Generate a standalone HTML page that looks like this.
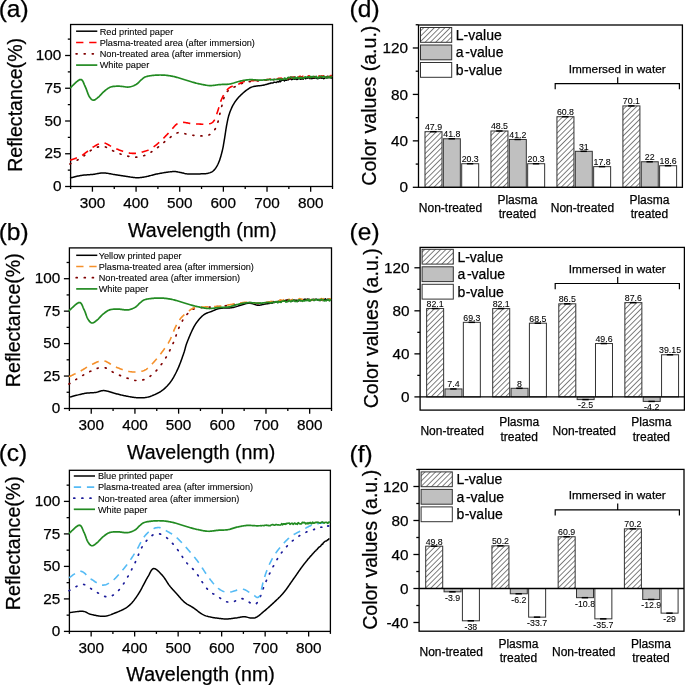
<!DOCTYPE html>
<html><head><meta charset="utf-8"><style>
html,body{margin:0;padding:0;background:#fff;}
svg{display:block;will-change:transform;}
text{font-family:"Liberation Sans", sans-serif;fill:#000;stroke:#000;stroke-width:0.25px;}
text.sm{stroke-width:0.08px;}
</style></head><body>
<svg width="685" height="685" viewBox="0 0 685 685" font-family='"Liberation Sans", sans-serif'>
<defs>
<pattern id="hatch" patternUnits="userSpaceOnUse" width="3.75" height="3.75" patternTransform="rotate(45)">
<rect width="3.75" height="3.75" fill="#fff"/>
<line x1="0" y1="0" x2="0" y2="3.75" stroke="#222" stroke-width="1.15"/>
</pattern>
</defs>
<rect width="685" height="685" fill="#fff"/>
<line x1="70.60" y1="186.50" x2="70.60" y2="189.00" stroke="#000" stroke-width="1.3" />
<line x1="92.42" y1="186.50" x2="92.42" y2="191.70" stroke="#000" stroke-width="1.3" />
<text x="92.42" y="208.10" font-size="15.3" text-anchor="middle" >300</text>
<line x1="114.25" y1="186.50" x2="114.25" y2="189.00" stroke="#000" stroke-width="1.3" />
<line x1="136.07" y1="186.50" x2="136.07" y2="191.70" stroke="#000" stroke-width="1.3" />
<text x="136.07" y="208.10" font-size="15.3" text-anchor="middle" >400</text>
<line x1="157.90" y1="186.50" x2="157.90" y2="189.00" stroke="#000" stroke-width="1.3" />
<line x1="179.72" y1="186.50" x2="179.72" y2="191.70" stroke="#000" stroke-width="1.3" />
<text x="179.72" y="208.10" font-size="15.3" text-anchor="middle" >500</text>
<line x1="201.55" y1="186.50" x2="201.55" y2="189.00" stroke="#000" stroke-width="1.3" />
<line x1="223.37" y1="186.50" x2="223.37" y2="191.70" stroke="#000" stroke-width="1.3" />
<text x="223.37" y="208.10" font-size="15.3" text-anchor="middle" >600</text>
<line x1="245.20" y1="186.50" x2="245.20" y2="189.00" stroke="#000" stroke-width="1.3" />
<line x1="267.02" y1="186.50" x2="267.02" y2="191.70" stroke="#000" stroke-width="1.3" />
<text x="267.02" y="208.10" font-size="15.3" text-anchor="middle" >700</text>
<line x1="288.85" y1="186.50" x2="288.85" y2="189.00" stroke="#000" stroke-width="1.3" />
<line x1="310.67" y1="186.50" x2="310.67" y2="191.70" stroke="#000" stroke-width="1.3" />
<text x="310.67" y="208.10" font-size="15.3" text-anchor="middle" >800</text>
<line x1="332.50" y1="186.50" x2="332.50" y2="189.00" stroke="#000" stroke-width="1.3" />
<line x1="65.10" y1="186.50" x2="70.60" y2="186.50" stroke="#000" stroke-width="1.3" />
<text x="61.40" y="191.20" font-size="15.3" text-anchor="end" >0</text>
<line x1="67.80" y1="170.12" x2="70.60" y2="170.12" stroke="#000" stroke-width="1.3" />
<line x1="65.10" y1="153.75" x2="70.60" y2="153.75" stroke="#000" stroke-width="1.3" />
<text x="61.40" y="158.45" font-size="15.3" text-anchor="end" >25</text>
<line x1="67.80" y1="137.38" x2="70.60" y2="137.38" stroke="#000" stroke-width="1.3" />
<line x1="65.10" y1="121.00" x2="70.60" y2="121.00" stroke="#000" stroke-width="1.3" />
<text x="61.40" y="125.70" font-size="15.3" text-anchor="end" >50</text>
<line x1="67.80" y1="104.62" x2="70.60" y2="104.62" stroke="#000" stroke-width="1.3" />
<line x1="65.10" y1="88.25" x2="70.60" y2="88.25" stroke="#000" stroke-width="1.3" />
<text x="61.40" y="92.95" font-size="15.3" text-anchor="end" >75</text>
<line x1="67.80" y1="71.88" x2="70.60" y2="71.88" stroke="#000" stroke-width="1.3" />
<line x1="65.10" y1="55.50" x2="70.60" y2="55.50" stroke="#000" stroke-width="1.3" />
<text x="61.40" y="60.20" font-size="15.3" text-anchor="end" >100</text>
<line x1="67.80" y1="39.12" x2="70.60" y2="39.12" stroke="#000" stroke-width="1.3" />
<rect x="70.60" y="24.50" width="261.90" height="162.00" fill="none" stroke="#000" stroke-width="1.3"/>
<text x="202.25" y="236.50" font-size="19.6" text-anchor="middle" >Wavelength (nm)</text>
<text transform="translate(21.60,104.90) rotate(-90)" font-size="19.6" text-anchor="middle">Reflectance(%)</text>
<text x="-1.30" y="17.30" font-size="24.5" text-anchor="start" >(a)</text>
<line x1="76.10" y1="31.20" x2="97.30" y2="31.20" stroke="#000" stroke-width="1.5"  stroke-linecap="butt"/>
<text x="99.70" y="34.50" font-size="9.2" text-anchor="start" class="sm" >Red printed paper</text>
<line x1="76.10" y1="42.50" x2="97.30" y2="42.50" stroke="#ff0000" stroke-width="1.6" stroke-dasharray="7.3 5.8" stroke-linecap="butt"/>
<text x="99.70" y="45.80" font-size="9.2" text-anchor="start" class="sm" >Plasma-treated area (after immersion)</text>
<line x1="76.10" y1="53.80" x2="97.30" y2="53.80" stroke="#800000" stroke-width="1.7" stroke-dasharray="1.0 7.1" stroke-linecap="round"/>
<text x="99.70" y="57.10" font-size="9.2" text-anchor="start" class="sm" >Non-treated area (after immersion)</text>
<line x1="76.10" y1="65.10" x2="97.30" y2="65.10" stroke="#228b22" stroke-width="1.7"  stroke-linecap="butt"/>
<text x="99.70" y="68.40" font-size="9.2" text-anchor="start" class="sm" >White paper</text>
<path d="M70.00,178.00 L70.46,177.89 L71.03,177.75 L71.69,177.59 L72.43,177.40 L73.23,177.20 L74.09,176.98 L74.99,176.76 L75.92,176.54 L76.86,176.32 L77.81,176.10 L78.75,175.90 L79.67,175.71 L80.56,175.54 L81.40,175.40 L82.22,175.28 L83.04,175.18 L83.86,175.09 L84.69,175.01 L85.51,174.95 L86.34,174.89 L87.16,174.83 L87.98,174.78 L88.80,174.73 L89.62,174.68 L90.42,174.62 L91.22,174.56 L92.02,174.48 L92.80,174.40 L93.63,174.29 L94.45,174.17 L95.27,174.03 L96.07,173.88 L96.87,173.72 L97.66,173.57 L98.45,173.42 L99.24,173.28 L100.03,173.16 L100.81,173.05 L101.60,172.97 L102.40,172.92 L103.20,172.90 L104.00,172.92 L104.80,172.96 L105.60,173.04 L106.40,173.13 L107.19,173.24 L107.99,173.37 L108.79,173.52 L109.60,173.66 L110.41,173.82 L111.22,173.97 L112.04,174.12 L112.87,174.27 L113.70,174.40 L114.48,174.52 L115.27,174.64 L116.07,174.77 L116.87,174.90 L117.67,175.03 L118.48,175.17 L119.29,175.30 L120.11,175.43 L120.92,175.57 L121.74,175.70 L122.56,175.83 L123.37,175.96 L124.19,176.08 L125.00,176.20 L125.82,176.32 L126.64,176.45 L127.47,176.59 L128.31,176.72 L129.14,176.86 L129.98,177.00 L130.81,177.12 L131.64,177.25 L132.46,177.36 L133.28,177.46 L134.08,177.55 L134.87,177.62 L135.64,177.67 L136.40,177.70 L137.33,177.71 L138.22,177.69 L139.08,177.66 L139.91,177.60 L140.74,177.52 L141.56,177.42 L142.39,177.30 L143.22,177.17 L144.08,177.03 L144.97,176.87 L145.90,176.70 L146.65,176.55 L147.40,176.39 L148.15,176.21 L148.91,176.02 L149.68,175.81 L150.45,175.60 L151.24,175.38 L152.05,175.16 L152.87,174.94 L153.71,174.72 L154.57,174.50 L155.46,174.29 L156.36,174.09 L157.30,173.90 L158.02,173.76 L158.78,173.62 L159.57,173.48 L160.38,173.33 L161.22,173.18 L162.08,173.03 L162.95,172.88 L163.82,172.74 L164.70,172.59 L165.57,172.46 L166.44,172.32 L167.30,172.20 L168.13,172.08 L168.95,171.97 L169.73,171.87 L170.49,171.78 L171.20,171.71 L171.87,171.65 L172.50,171.60 L173.68,171.55 L174.70,171.56 L175.60,171.61 L176.40,171.70 L177.14,171.83 L177.85,171.97 L178.56,172.12 L179.30,172.26 L180.10,172.40 L180.92,172.54 L181.70,172.72 L182.46,172.90 L183.22,173.10 L184.00,173.30 L184.82,173.49 L185.70,173.65 L186.65,173.80 L187.70,173.90 L188.39,173.94 L189.14,173.98 L189.93,174.01 L190.76,174.02 L191.61,174.03 L192.49,174.04 L193.38,174.03 L194.28,174.03 L195.17,174.02 L196.05,174.00 L196.91,173.98 L197.75,173.96 L198.54,173.94 L199.30,173.92 L200.00,173.90 L201.08,173.87 L202.09,173.85 L203.03,173.83 L203.92,173.80 L204.77,173.76 L205.58,173.69 L206.36,173.60 L207.13,173.47 L207.90,173.30 L208.74,173.08 L209.54,172.85 L210.30,172.60 L211.04,172.31 L211.75,171.95 L212.44,171.53 L213.12,171.02 L213.80,170.40 L214.29,169.88 L214.77,169.32 L215.24,168.71 L215.71,168.06 L216.17,167.37 L216.62,166.64 L217.06,165.87 L217.48,165.07 L217.90,164.24 L218.31,163.38 L218.70,162.50 L218.98,161.83 L219.26,161.12 L219.53,160.39 L219.79,159.64 L220.05,158.86 L220.30,158.07 L220.55,157.26 L220.79,156.44 L221.02,155.61 L221.25,154.79 L221.47,153.96 L221.69,153.13 L221.90,152.31 L222.10,151.50 L222.30,150.70 L222.49,149.91 L222.66,149.13 L222.83,148.36 L222.99,147.58 L223.14,146.81 L223.28,146.04 L223.42,145.26 L223.55,144.49 L223.69,143.70 L223.82,142.91 L223.95,142.11 L224.08,141.30 L224.22,140.48 L224.36,139.65 L224.50,138.80 L224.63,138.03 L224.76,137.25 L224.88,136.44 L225.01,135.62 L225.14,134.79 L225.26,133.95 L225.39,133.10 L225.52,132.26 L225.64,131.41 L225.77,130.56 L225.90,129.73 L226.03,128.90 L226.16,128.08 L226.29,127.28 L226.43,126.50 L226.56,125.74 L226.70,125.00 L226.88,124.07 L227.05,123.16 L227.22,122.28 L227.39,121.43 L227.56,120.59 L227.73,119.76 L227.91,118.95 L228.09,118.15 L228.29,117.36 L228.49,116.57 L228.71,115.78 L228.95,114.99 L229.20,114.20 L229.47,113.40 L229.75,112.61 L230.04,111.81 L230.34,111.02 L230.65,110.23 L230.97,109.45 L231.31,108.68 L231.65,107.91 L232.00,107.16 L232.36,106.42 L232.73,105.70 L233.11,104.99 L233.50,104.30 L233.93,103.57 L234.37,102.87 L234.82,102.18 L235.27,101.51 L235.74,100.86 L236.22,100.21 L236.72,99.58 L237.23,98.96 L237.75,98.34 L238.28,97.72 L238.83,97.11 L239.40,96.50 L239.95,95.93 L240.53,95.35 L241.13,94.77 L241.75,94.18 L242.38,93.60 L243.03,93.03 L243.67,92.47 L244.32,91.93 L244.95,91.41 L245.57,90.91 L246.17,90.44 L246.75,90.00 L247.30,89.60 L248.11,89.03 L248.82,88.54 L249.48,88.12 L250.13,87.76 L250.78,87.44 L251.49,87.15 L252.28,86.87 L253.20,86.60 L253.89,86.43 L254.64,86.28 L255.44,86.15 L256.28,86.03 L257.15,85.93 L258.03,85.83 L258.92,85.74 L259.81,85.64 L260.68,85.55 L261.53,85.44 L262.34,85.33 L263.10,85.19 L263.95,85.00 L264.73,84.89 L265.47,84.60 L266.17,84.52 L266.88,84.28 L267.59,83.98 L268.32,83.94 L269.11,83.52 L269.96,83.49 L270.90,83.04 L271.57,82.88 L272.28,82.93 L273.02,83.05 L273.78,82.33 L274.57,82.21 L275.37,82.38 L276.19,82.51 L277.02,81.97 L277.85,81.59 L278.69,82.07 L279.53,80.79 L280.36,81.62 L281.19,80.72 L282.00,80.35 L282.80,80.15 L283.64,80.26 L284.46,80.91 L285.26,79.76 L286.06,80.29 L286.86,80.27 L287.65,79.68 L288.46,79.89 L289.27,78.90 L290.09,78.79 L290.94,78.95 L291.81,79.71 L292.71,79.16 L293.63,78.86 L294.60,79.25 L295.33,78.95 L296.07,78.61 L296.81,79.43 L297.56,79.20 L298.32,78.32 L299.10,78.85 L299.88,78.71 L300.67,79.28 L301.48,78.96 L302.30,78.12 L303.13,79.31 L303.98,77.71 L304.85,78.20 L305.73,78.77 L306.62,77.63 L307.54,78.20 L308.47,77.35 L309.43,78.44 L310.40,78.58 L311.11,78.21 L311.87,78.73 L312.66,77.69 L313.49,78.36 L314.35,78.15 L315.22,78.11 L316.13,77.86 L317.04,78.54 L317.97,78.71 L318.91,77.84 L319.85,78.17 L320.79,77.07 L321.72,78.21 L322.65,78.10 L323.56,78.70 L324.46,78.38 L325.34,77.41 L326.19,77.58 L327.01,78.07 L327.79,76.90 L328.54,77.68 L329.25,77.14 L329.91,77.04 L330.52,76.93 L331.07,78.20 L331.57,77.04 L332.00,77.25" fill="none" stroke="#000" stroke-width="1.5"  stroke-linecap="butt" stroke-linejoin="round"/>
<path d="M70.00,164.00 L70.40,163.78 L70.88,163.53 L71.43,163.24 L72.05,162.92 L72.72,162.57 L73.44,162.20 L74.20,161.80 L74.99,161.38 L75.80,160.95 L76.62,160.50 L77.45,160.04 L78.28,159.58 L79.10,159.11 L79.90,158.64 L80.67,158.17 L81.40,157.70 L82.07,157.25 L82.75,156.77 L83.42,156.26 L84.10,155.73 L84.78,155.19 L85.46,154.63 L86.14,154.07 L86.82,153.51 L87.50,152.95 L88.18,152.40 L88.85,151.87 L89.52,151.35 L90.19,150.85 L90.85,150.39 L91.50,149.95 L92.16,149.56 L92.80,149.20 L93.63,148.78 L94.45,148.38 L95.27,148.01 L96.07,147.67 L96.87,147.37 L97.66,147.10 L98.45,146.86 L99.24,146.67 L100.03,146.52 L100.81,146.42 L101.60,146.36 L102.40,146.35 L103.20,146.40 L103.95,146.51 L104.69,146.68 L105.43,146.92 L106.17,147.20 L106.91,147.54 L107.65,147.91 L108.39,148.30 L109.14,148.71 L109.89,149.14 L110.64,149.56 L111.40,149.98 L112.16,150.38 L112.93,150.76 L113.70,151.10 L114.43,151.41 L115.17,151.72 L115.91,152.04 L116.65,152.37 L117.40,152.69 L118.16,153.01 L118.91,153.33 L119.67,153.64 L120.43,153.95 L121.20,154.24 L121.96,154.53 L122.72,154.80 L123.48,155.05 L124.24,155.29 L125.00,155.50 L125.82,155.71 L126.64,155.92 L127.47,156.12 L128.31,156.30 L129.14,156.47 L129.98,156.63 L130.81,156.77 L131.64,156.89 L132.46,157.00 L133.28,157.08 L134.08,157.15 L134.87,157.19 L135.64,157.21 L136.40,157.20 L137.26,157.16 L138.09,157.09 L138.91,156.99 L139.71,156.86 L140.49,156.70 L141.27,156.51 L142.04,156.30 L142.80,156.07 L143.57,155.81 L144.34,155.53 L145.11,155.22 L145.90,154.90 L146.63,154.58 L147.36,154.23 L148.09,153.86 L148.82,153.46 L149.55,153.04 L150.28,152.61 L151.02,152.15 L151.75,151.69 L152.48,151.21 L153.21,150.71 L153.94,150.22 L154.67,149.71 L155.40,149.20 L156.03,148.75 L156.67,148.28 L157.30,147.80 L157.93,147.30 L158.57,146.79 L159.20,146.28 L159.83,145.76 L160.47,145.23 L161.10,144.70 L161.73,144.17 L162.37,143.65 L163.00,143.12 L163.63,142.61 L164.27,142.10 L164.90,141.60 L165.59,141.06 L166.29,140.50 L167.00,139.94 L167.73,139.36 L168.45,138.78 L169.17,138.21 L169.89,137.64 L170.59,137.09 L171.29,136.56 L171.96,136.06 L172.62,135.59 L173.24,135.15 L173.84,134.75 L174.40,134.40 L175.40,133.82 L176.25,133.36 L177.01,133.02 L177.72,132.77 L178.44,132.61 L179.22,132.53 L180.10,132.50 L180.84,132.55 L181.57,132.67 L182.32,132.87 L183.09,133.11 L183.90,133.37 L184.75,133.66 L185.66,133.93 L186.64,134.19 L187.70,134.40 L188.39,134.52 L189.12,134.64 L189.90,134.77 L190.71,134.90 L191.54,135.04 L192.40,135.17 L193.27,135.29 L194.15,135.42 L195.03,135.53 L195.90,135.63 L196.77,135.72 L197.62,135.79 L198.44,135.85 L199.24,135.89 L200.00,135.90 L200.92,135.90 L201.83,135.91 L202.73,135.90 L203.61,135.87 L204.47,135.83 L205.32,135.76 L206.14,135.66 L206.95,135.53 L207.73,135.35 L208.48,135.12 L209.21,134.84 L209.90,134.50 L210.57,134.10 L211.21,133.65 L211.82,133.15 L212.41,132.61 L212.98,132.03 L213.52,131.40 L214.04,130.74 L214.53,130.04 L215.01,129.32 L215.46,128.57 L215.89,127.79 L216.30,127.00 L216.61,126.34 L216.89,125.64 L217.15,124.92 L217.39,124.16 L217.61,123.39 L217.82,122.59 L218.02,121.78 L218.21,120.96 L218.39,120.13 L218.57,119.29 L218.74,118.46 L218.92,117.63 L219.11,116.81 L219.30,116.00 L219.50,115.20 L219.71,114.41 L219.91,113.60 L220.12,112.79 L220.32,111.98 L220.53,111.16 L220.73,110.34 L220.93,109.52 L221.13,108.71 L221.33,107.91 L221.53,107.12 L221.73,106.34 L221.92,105.57 L222.12,104.83 L222.31,104.10 L222.50,103.40 L222.75,102.47 L222.99,101.55 L223.21,100.66 L223.43,99.78 L223.65,98.93 L223.87,98.11 L224.11,97.32 L224.35,96.56 L224.61,95.84 L224.89,95.15 L225.20,94.50 L225.65,93.69 L226.10,92.97 L226.58,92.33 L227.08,91.74 L227.63,91.20 L228.22,90.67 L228.88,90.14 L229.60,89.60 L230.24,89.16 L230.94,88.73 L231.69,88.31 L232.47,87.90 L233.28,87.50 L234.11,87.11 L234.95,86.72 L235.78,86.34 L236.60,85.97 L237.40,85.60 L238.16,85.23 L238.88,84.87 L239.58,84.50 L240.27,84.14 L240.97,83.79 L241.71,83.46 L242.49,83.14 L243.34,82.83 L244.27,82.55 L245.30,82.30 L245.95,82.17 L246.62,82.04 L247.31,81.93 L248.02,81.83 L248.75,81.73 L249.50,81.64 L250.27,81.56 L251.06,81.48 L251.87,81.41 L252.70,81.34 L253.56,81.26 L254.43,81.19 L255.32,81.12 L256.24,81.05 L257.17,80.97 L258.12,80.89 L259.10,80.80 L259.81,80.74 L260.54,80.67 L261.28,80.60 L262.04,80.54 L262.82,80.47 L263.61,80.43 L264.41,80.29 L265.23,80.26 L266.06,80.22 L266.89,80.26 L267.73,80.19 L268.58,80.16 L269.44,79.83 L270.29,79.83 L271.15,79.72 L272.01,80.00 L272.88,80.01 L273.74,79.32 L274.59,79.26 L275.45,79.22 L276.30,79.14 L277.14,79.32 L277.97,79.37 L278.80,78.92 L279.61,78.53 L280.40,78.96 L281.17,78.82 L281.92,79.02 L282.67,79.51 L283.40,79.07 L284.13,78.74 L284.86,78.83 L285.58,78.86 L286.31,77.74 L287.04,79.13 L287.79,78.86 L288.54,78.96 L289.31,78.75 L290.10,77.96 L290.91,77.90 L291.74,77.30 L292.60,78.19 L293.49,77.10 L294.42,77.05 L295.38,77.24 L296.38,77.10 L297.42,77.37 L298.50,76.79 L299.17,76.67 L299.87,76.91 L300.60,76.79 L301.36,77.24 L302.16,76.60 L302.97,78.10 L303.81,77.60 L304.68,76.73 L305.56,76.89 L306.46,77.04 L307.38,77.04 L308.31,76.58 L309.25,77.86 L310.20,78.09 L311.16,77.12 L312.13,77.13 L313.10,76.39 L314.07,76.39 L315.03,76.80 L316.00,76.64 L316.96,77.63 L317.92,76.41 L318.86,76.14 L319.80,77.79 L320.72,77.00 L321.62,76.30 L322.51,76.99 L323.38,76.04 L324.23,76.93 L325.05,77.72 L325.85,77.50 L326.63,77.18 L327.37,76.38 L328.08,76.55 L328.76,76.18 L329.40,77.25 L330.00,76.81 L330.57,77.24 L331.09,76.42 L331.57,76.21 L332.00,77.26" fill="none" stroke="#800000" stroke-width="1.7" stroke-dasharray="1.0 7.1" stroke-linecap="round" stroke-linejoin="round"/>
<path d="M70.00,160.20 L70.43,160.04 L70.95,159.87 L71.55,159.67 L72.22,159.45 L72.96,159.21 L73.74,158.95 L74.56,158.68 L75.42,158.38 L76.29,158.07 L77.18,157.73 L78.06,157.38 L78.94,157.01 L79.79,156.63 L80.62,156.22 L81.40,155.80 L82.07,155.40 L82.75,154.96 L83.42,154.49 L84.10,154.00 L84.78,153.48 L85.46,152.94 L86.14,152.39 L86.82,151.83 L87.50,151.27 L88.18,150.71 L88.85,150.16 L89.52,149.62 L90.19,149.10 L90.85,148.61 L91.50,148.14 L92.16,147.70 L92.80,147.30 L93.57,146.84 L94.34,146.38 L95.09,145.92 L95.84,145.48 L96.58,145.05 L97.32,144.64 L98.06,144.27 L98.79,143.93 L99.52,143.62 L100.25,143.37 L100.98,143.16 L101.72,143.01 L102.46,142.92 L103.20,142.90 L103.95,142.96 L104.69,143.11 L105.43,143.33 L106.17,143.62 L106.91,143.96 L107.65,144.34 L108.39,144.76 L109.14,145.20 L109.89,145.65 L110.64,146.10 L111.40,146.54 L112.16,146.96 L112.93,147.35 L113.70,147.70 L114.43,148.01 L115.18,148.32 L115.94,148.64 L116.70,148.96 L117.47,149.28 L118.25,149.60 L119.02,149.91 L119.80,150.21 L120.57,150.51 L121.34,150.80 L122.09,151.07 L122.84,151.33 L123.58,151.58 L124.30,151.80 L125.00,152.00 L125.85,152.23 L126.69,152.44 L127.50,152.63 L128.30,152.80 L129.09,152.96 L129.86,153.09 L130.63,153.20 L131.40,153.29 L132.17,153.35 L132.94,153.39 L133.71,153.41 L134.50,153.40 L135.30,153.36 L136.11,153.29 L136.92,153.19 L137.74,153.06 L138.55,152.91 L139.37,152.74 L140.18,152.55 L140.97,152.35 L141.76,152.14 L142.53,151.93 L143.27,151.71 L144.00,151.50 L144.83,151.25 L145.61,151.02 L146.36,150.78 L147.09,150.53 L147.80,150.26 L148.51,149.97 L149.24,149.63 L149.99,149.25 L150.77,148.81 L151.60,148.30 L152.18,147.92 L152.77,147.51 L153.38,147.08 L154.00,146.62 L154.63,146.14 L155.26,145.64 L155.91,145.13 L156.56,144.59 L157.21,144.05 L157.86,143.49 L158.52,142.92 L159.17,142.35 L159.82,141.77 L160.46,141.18 L161.10,140.60 L161.67,140.07 L162.24,139.52 L162.83,138.95 L163.42,138.36 L164.01,137.76 L164.61,137.16 L165.20,136.54 L165.79,135.92 L166.38,135.30 L166.96,134.69 L167.53,134.08 L168.08,133.49 L168.63,132.91 L169.15,132.35 L169.66,131.81 L170.14,131.29 L170.60,130.80 L171.32,130.01 L171.98,129.25 L172.59,128.52 L173.15,127.83 L173.69,127.18 L174.20,126.56 L174.71,125.98 L175.22,125.44 L175.75,124.95 L176.30,124.50 L177.08,123.94 L177.82,123.47 L178.54,123.09 L179.29,122.78 L180.09,122.55 L180.99,122.39 L182.00,122.30 L182.72,122.29 L183.51,122.33 L184.34,122.42 L185.22,122.55 L186.12,122.70 L187.04,122.87 L187.96,123.04 L188.88,123.21 L189.78,123.36 L190.66,123.50 L191.50,123.60 L192.39,123.68 L193.27,123.76 L194.14,123.82 L195.00,123.88 L195.85,123.93 L196.69,123.97 L197.53,124.01 L198.35,124.04 L199.18,124.07 L200.00,124.10 L200.92,124.14 L201.83,124.19 L202.75,124.25 L203.66,124.30 L204.56,124.33 L205.44,124.34 L206.29,124.31 L207.11,124.23 L207.90,124.10 L208.75,123.92 L209.56,123.72 L210.35,123.50 L211.10,123.22 L211.82,122.86 L212.51,122.41 L213.17,121.83 L213.80,121.10 L214.17,120.56 L214.52,119.96 L214.85,119.28 L215.18,118.56 L215.49,117.79 L215.79,116.99 L216.07,116.16 L216.36,115.31 L216.63,114.46 L216.90,113.62 L217.17,112.79 L217.43,111.98 L217.70,111.20 L217.98,110.37 L218.24,109.54 L218.49,108.70 L218.73,107.86 L218.97,107.01 L219.20,106.17 L219.43,105.34 L219.67,104.52 L219.91,103.71 L220.16,102.92 L220.42,102.15 L220.70,101.40 L221.02,100.60 L221.34,99.82 L221.67,99.05 L222.01,98.30 L222.35,97.57 L222.70,96.85 L223.06,96.15 L223.43,95.46 L223.81,94.79 L224.20,94.14 L224.60,93.50 L225.09,92.74 L225.58,92.00 L226.08,91.28 L226.59,90.58 L227.13,89.91 L227.69,89.28 L228.28,88.68 L228.92,88.12 L229.60,87.60 L230.27,87.18 L230.98,86.82 L231.73,86.50 L232.51,86.21 L233.32,85.94 L234.14,85.68 L234.96,85.43 L235.79,85.17 L236.60,84.90 L237.40,84.60 L238.16,84.27 L238.88,83.92 L239.58,83.56 L240.27,83.19 L240.97,82.82 L241.71,82.47 L242.49,82.13 L243.34,81.82 L244.27,81.54 L245.30,81.30 L245.95,81.18 L246.62,81.08 L247.31,80.99 L248.02,80.92 L248.75,80.86 L249.50,80.80 L250.27,80.75 L251.06,80.71 L251.87,80.68 L252.70,80.64 L253.56,80.60 L254.43,80.57 L255.32,80.53 L256.24,80.48 L257.17,80.43 L258.12,80.37 L259.10,80.30 L259.81,80.24 L260.54,80.19 L261.28,80.13 L262.04,80.07 L262.82,80.01 L263.61,79.97 L264.41,79.92 L265.23,79.87 L266.06,79.80 L266.89,79.59 L267.73,79.61 L268.58,79.48 L269.44,79.24 L270.29,79.14 L271.15,79.19 L272.01,79.09 L272.88,79.33 L273.74,79.48 L274.59,79.00 L275.45,79.38 L276.30,79.38 L277.14,79.31 L277.97,78.62 L278.80,78.38 L279.61,78.30 L280.40,78.18 L281.17,78.10 L281.92,78.60 L282.67,78.93 L283.40,78.79 L284.13,78.18 L284.86,78.39 L285.58,78.56 L286.31,77.29 L287.04,78.21 L287.79,78.59 L288.54,78.29 L289.31,78.17 L290.10,77.61 L290.91,77.00 L291.74,78.04 L292.60,77.15 L293.49,77.93 L294.42,78.18 L295.38,77.08 L296.38,77.03 L297.42,77.96 L298.50,77.50 L299.17,76.48 L299.87,76.37 L300.60,76.38 L301.36,77.71 L302.16,77.50 L302.97,76.29 L303.81,77.48 L304.68,77.73 L305.56,77.12 L306.46,76.54 L307.38,76.87 L308.31,76.09 L309.25,75.86 L310.20,77.55 L311.16,76.95 L312.13,76.70 L313.10,77.41 L314.07,76.49 L315.03,77.25 L316.00,77.15 L316.96,76.02 L317.92,76.07 L318.86,76.12 L319.80,76.01 L320.72,76.61 L321.62,76.00 L322.51,76.27 L323.38,75.73 L324.23,77.11 L325.05,76.10 L325.85,76.27 L326.63,76.47 L327.37,77.04 L328.08,76.15 L328.76,77.03 L329.40,76.27 L330.00,76.31 L330.57,76.28 L331.09,75.36 L331.57,76.10 L332.00,75.63" fill="none" stroke="#ff0000" stroke-width="1.6" stroke-dasharray="7.3 5.8" stroke-linecap="butt" stroke-linejoin="round"/>
<path d="M70.00,88.10 L70.37,87.77 L70.84,87.33 L71.39,86.80 L72.00,86.19 L72.67,85.52 L73.38,84.81 L74.13,84.09 L74.90,83.36 L75.68,82.64 L76.45,81.95 L77.21,81.32 L77.95,80.75 L78.65,80.26 L79.30,79.88 L79.88,79.62 L80.40,79.50 L81.11,79.56 L81.73,79.88 L82.28,80.40 L82.77,81.10 L83.21,81.92 L83.62,82.84 L84.01,83.81 L84.39,84.78 L84.79,85.73 L85.20,86.60 L85.55,87.32 L85.89,88.09 L86.21,88.91 L86.53,89.76 L86.83,90.62 L87.14,91.48 L87.44,92.34 L87.74,93.17 L88.05,93.96 L88.36,94.71 L88.67,95.39 L89.00,96.00 L89.57,96.94 L90.14,97.79 L90.71,98.55 L91.30,99.19 L91.91,99.69 L92.54,100.03 L93.20,100.20 L93.90,100.15 L94.62,99.90 L95.37,99.48 L96.14,98.93 L96.92,98.31 L97.71,97.65 L98.50,97.00 L99.05,96.52 L99.60,96.00 L100.15,95.43 L100.71,94.83 L101.27,94.22 L101.84,93.60 L102.41,92.99 L103.00,92.39 L103.59,91.82 L104.20,91.30 L104.88,90.74 L105.57,90.18 L106.26,89.63 L106.97,89.10 L107.69,88.59 L108.43,88.12 L109.19,87.69 L109.98,87.32 L110.80,87.00 L111.57,86.77 L112.36,86.59 L113.18,86.45 L114.02,86.35 L114.87,86.28 L115.74,86.24 L116.62,86.21 L117.51,86.20 L118.40,86.20 L119.30,86.20 L120.13,86.23 L120.99,86.30 L121.87,86.40 L122.76,86.52 L123.66,86.65 L124.55,86.78 L125.44,86.90 L126.32,86.99 L127.17,87.05 L128.00,87.05 L128.80,87.00 L129.65,86.88 L130.49,86.71 L131.31,86.50 L132.11,86.25 L132.89,85.97 L133.65,85.67 L134.39,85.35 L135.09,85.00 L135.76,84.65 L136.40,84.30 L137.13,83.82 L137.80,83.29 L138.41,82.72 L138.98,82.13 L139.53,81.54 L140.07,80.96 L140.62,80.40 L141.20,79.90 L141.83,79.37 L142.41,78.85 L142.97,78.36 L143.56,77.89 L144.21,77.46 L144.98,77.06 L145.90,76.70 L146.52,76.51 L147.21,76.33 L147.94,76.17 L148.71,76.02 L149.52,75.88 L150.35,75.75 L151.20,75.63 L152.06,75.53 L152.91,75.43 L153.76,75.34 L154.59,75.27 L155.40,75.20 L156.26,75.14 L157.13,75.09 L157.99,75.05 L158.85,75.03 L159.72,75.01 L160.58,75.01 L161.45,75.03 L162.31,75.05 L163.17,75.09 L164.04,75.14 L164.90,75.20 L165.69,75.27 L166.48,75.35 L167.28,75.44 L168.07,75.54 L168.86,75.65 L169.65,75.78 L170.44,75.91 L171.23,76.05 L172.02,76.20 L172.82,76.36 L173.61,76.52 L174.40,76.70 L175.19,76.89 L175.98,77.09 L176.77,77.31 L177.57,77.53 L178.36,77.77 L179.15,78.01 L179.94,78.26 L180.73,78.51 L181.52,78.76 L182.32,79.01 L183.11,79.26 L183.90,79.50 L184.70,79.74 L185.52,79.99 L186.34,80.25 L187.17,80.51 L188.01,80.77 L188.83,81.03 L189.65,81.28 L190.45,81.53 L191.23,81.76 L191.98,81.99 L192.71,82.20 L193.40,82.40 L194.34,82.66 L195.18,82.89 L195.94,83.10 L196.68,83.28 L197.41,83.46 L198.19,83.63 L199.04,83.81 L200.00,84.00 L200.71,84.14 L201.46,84.30 L202.25,84.46 L203.06,84.63 L203.90,84.80 L204.75,84.96 L205.61,85.12 L206.49,85.26 L207.35,85.38 L208.22,85.48 L209.07,85.56 L209.90,85.60 L210.72,85.61 L211.54,85.58 L212.35,85.52 L213.17,85.44 L213.99,85.35 L214.80,85.24 L215.61,85.12 L216.43,85.00 L217.25,84.88 L218.06,84.77 L218.88,84.68 L219.70,84.60 L220.52,84.54 L221.35,84.50 L222.17,84.47 L223.00,84.45 L223.82,84.43 L224.65,84.41 L225.48,84.38 L226.30,84.34 L227.13,84.29 L227.95,84.22 L228.78,84.12 L229.60,84.00 L230.42,83.85 L231.24,83.66 L232.05,83.45 L232.87,83.21 L233.69,82.97 L234.50,82.71 L235.31,82.45 L236.13,82.20 L236.95,81.95 L237.76,81.71 L238.58,81.49 L239.40,81.30 L240.22,81.12 L241.05,80.95 L241.87,80.78 L242.70,80.61 L243.52,80.45 L244.35,80.31 L245.18,80.17 L246.00,80.04 L246.83,79.93 L247.65,79.84 L248.48,79.76 L249.30,79.70 L250.12,79.67 L250.94,79.66 L251.75,79.68 L252.57,79.71 L253.39,79.77 L254.20,79.83 L255.01,79.89 L255.83,79.95 L256.65,80.01 L257.46,80.06 L258.28,80.09 L259.10,80.07 L259.92,80.13 L260.75,80.02 L261.57,80.05 L262.40,80.10 L263.22,80.02 L264.05,79.89 L264.88,79.93 L265.70,79.91 L266.53,80.00 L267.35,79.53 L268.18,79.79 L269.00,79.51 L269.82,79.47 L270.64,79.86 L271.45,79.58 L272.27,79.59 L273.09,79.76 L273.90,79.90 L274.71,79.32 L275.53,79.48 L276.35,79.29 L277.16,79.24 L277.98,79.44 L278.80,79.03 L279.62,79.08 L280.45,78.91 L281.27,79.59 L282.10,79.12 L282.92,79.35 L283.75,79.38 L284.58,78.06 L285.40,78.51 L286.23,79.12 L287.05,78.85 L287.88,77.51 L288.70,77.42 L289.52,77.94 L290.34,77.23 L291.15,77.49 L291.97,77.15 L292.79,78.20 L293.60,78.37 L294.41,78.55 L295.23,77.19 L296.05,78.17 L296.86,78.05 L297.68,77.09 L298.50,78.39 L299.32,78.51 L300.15,77.13 L300.97,78.41 L301.80,77.38 L302.62,77.50 L303.45,78.37 L304.28,78.05 L305.10,76.81 L305.93,77.26 L306.75,77.38 L307.58,77.04 L308.40,76.75 L309.21,76.95 L309.99,77.65 L310.76,76.37 L311.53,77.31 L312.29,77.09 L313.06,76.31 L313.84,76.86 L314.64,77.37 L315.47,77.15 L316.34,76.34 L317.24,77.98 L318.20,77.62 L318.93,77.94 L319.72,76.38 L320.57,76.67 L321.46,76.26 L322.39,77.59 L323.33,76.67 L324.29,76.42 L325.24,76.95 L326.18,77.83 L327.10,77.66 L327.99,76.66 L328.83,76.46 L329.62,77.85 L330.34,77.22 L330.98,77.46 L331.54,76.36 L332.00,76.30" fill="none" stroke="#228b22" stroke-width="1.7"  stroke-linecap="butt" stroke-linejoin="round"/>
<line x1="69.40" y1="408.50" x2="69.40" y2="411.00" stroke="#000" stroke-width="1.3" />
<line x1="91.24" y1="408.50" x2="91.24" y2="413.70" stroke="#000" stroke-width="1.3" />
<text x="91.24" y="430.10" font-size="15.3" text-anchor="middle" >300</text>
<line x1="113.08" y1="408.50" x2="113.08" y2="411.00" stroke="#000" stroke-width="1.3" />
<line x1="134.93" y1="408.50" x2="134.93" y2="413.70" stroke="#000" stroke-width="1.3" />
<text x="134.93" y="430.10" font-size="15.3" text-anchor="middle" >400</text>
<line x1="156.77" y1="408.50" x2="156.77" y2="411.00" stroke="#000" stroke-width="1.3" />
<line x1="178.61" y1="408.50" x2="178.61" y2="413.70" stroke="#000" stroke-width="1.3" />
<text x="178.61" y="430.10" font-size="15.3" text-anchor="middle" >500</text>
<line x1="200.45" y1="408.50" x2="200.45" y2="411.00" stroke="#000" stroke-width="1.3" />
<line x1="222.29" y1="408.50" x2="222.29" y2="413.70" stroke="#000" stroke-width="1.3" />
<text x="222.29" y="430.10" font-size="15.3" text-anchor="middle" >600</text>
<line x1="244.13" y1="408.50" x2="244.13" y2="411.00" stroke="#000" stroke-width="1.3" />
<line x1="265.98" y1="408.50" x2="265.98" y2="413.70" stroke="#000" stroke-width="1.3" />
<text x="265.98" y="430.10" font-size="15.3" text-anchor="middle" >700</text>
<line x1="287.82" y1="408.50" x2="287.82" y2="411.00" stroke="#000" stroke-width="1.3" />
<line x1="309.66" y1="408.50" x2="309.66" y2="413.70" stroke="#000" stroke-width="1.3" />
<text x="309.66" y="430.10" font-size="15.3" text-anchor="middle" >800</text>
<line x1="331.50" y1="408.50" x2="331.50" y2="411.00" stroke="#000" stroke-width="1.3" />
<line x1="63.90" y1="408.50" x2="69.40" y2="408.50" stroke="#000" stroke-width="1.3" />
<text x="60.20" y="413.20" font-size="15.3" text-anchor="end" >0</text>
<line x1="66.60" y1="392.27" x2="69.40" y2="392.27" stroke="#000" stroke-width="1.3" />
<line x1="63.90" y1="376.05" x2="69.40" y2="376.05" stroke="#000" stroke-width="1.3" />
<text x="60.20" y="380.75" font-size="15.3" text-anchor="end" >25</text>
<line x1="66.60" y1="359.82" x2="69.40" y2="359.82" stroke="#000" stroke-width="1.3" />
<line x1="63.90" y1="343.60" x2="69.40" y2="343.60" stroke="#000" stroke-width="1.3" />
<text x="60.20" y="348.30" font-size="15.3" text-anchor="end" >50</text>
<line x1="66.60" y1="327.38" x2="69.40" y2="327.38" stroke="#000" stroke-width="1.3" />
<line x1="63.90" y1="311.15" x2="69.40" y2="311.15" stroke="#000" stroke-width="1.3" />
<text x="60.20" y="315.85" font-size="15.3" text-anchor="end" >75</text>
<line x1="66.60" y1="294.93" x2="69.40" y2="294.93" stroke="#000" stroke-width="1.3" />
<line x1="63.90" y1="278.70" x2="69.40" y2="278.70" stroke="#000" stroke-width="1.3" />
<text x="60.20" y="283.40" font-size="15.3" text-anchor="end" >100</text>
<line x1="66.60" y1="262.48" x2="69.40" y2="262.48" stroke="#000" stroke-width="1.3" />
<rect x="69.40" y="247.90" width="262.10" height="160.60" fill="none" stroke="#000" stroke-width="1.3"/>
<text x="201.15" y="458.50" font-size="19.6" text-anchor="middle" >Wavelength (nm)</text>
<text transform="translate(20.40,320.20) rotate(-90)" font-size="19.6" text-anchor="middle">Reflectance(%)</text>
<text x="-1.30" y="239.60" font-size="24.5" text-anchor="start" >(b)</text>
<line x1="76.20" y1="255.30" x2="97.30" y2="255.30" stroke="#000" stroke-width="1.5"  stroke-linecap="butt"/>
<text x="98.70" y="258.60" font-size="9.2" text-anchor="start" class="sm" >Yellow printed paper</text>
<line x1="76.20" y1="266.50" x2="97.30" y2="266.50" stroke="#f5902a" stroke-width="1.6" stroke-dasharray="7.3 5.8" stroke-linecap="butt"/>
<text x="98.70" y="269.80" font-size="9.2" text-anchor="start" class="sm" >Plasma-treated area (after immersion)</text>
<line x1="76.20" y1="277.70" x2="97.30" y2="277.70" stroke="#800000" stroke-width="1.7" stroke-dasharray="1.0 7.1" stroke-linecap="round"/>
<text x="98.70" y="281.00" font-size="9.2" text-anchor="start" class="sm" >Non-treated area (after immersion)</text>
<line x1="76.20" y1="288.90" x2="97.30" y2="288.90" stroke="#228b22" stroke-width="1.7"  stroke-linecap="butt"/>
<text x="98.70" y="292.20" font-size="9.2" text-anchor="start" class="sm" >White paper</text>
<path d="M69.00,397.30 L69.45,397.19 L69.98,397.05 L70.59,396.88 L71.27,396.70 L72.01,396.50 L72.81,396.29 L73.65,396.06 L74.52,395.83 L75.43,395.59 L76.35,395.35 L77.29,395.10 L78.23,394.86 L79.16,394.63 L80.08,394.40 L80.98,394.19 L81.85,393.99 L82.68,393.81 L83.47,393.64 L84.20,393.50 L85.14,393.34 L86.05,393.21 L86.95,393.10 L87.82,393.01 L88.67,392.94 L89.50,392.88 L90.32,392.82 L91.12,392.78 L91.90,392.73 L92.67,392.69 L93.42,392.63 L94.16,392.57 L94.88,392.49 L95.60,392.40 L96.56,392.23 L97.46,392.01 L98.30,391.77 L99.12,391.51 L99.91,391.26 L100.70,391.03 L101.50,390.83 L102.32,390.68 L103.19,390.60 L104.10,390.60 L104.84,390.66 L105.59,390.77 L106.35,390.92 L107.13,391.10 L107.92,391.31 L108.72,391.55 L109.52,391.80 L110.34,392.06 L111.16,392.32 L111.99,392.58 L112.83,392.84 L113.66,393.08 L114.50,393.30 L115.28,393.50 L116.08,393.69 L116.88,393.90 L117.68,394.10 L118.50,394.31 L119.32,394.51 L120.14,394.71 L120.96,394.91 L121.79,395.11 L122.61,395.30 L123.44,395.49 L124.26,395.67 L125.08,395.84 L125.90,396.00 L126.72,396.16 L127.55,396.31 L128.38,396.47 L129.21,396.62 L130.05,396.77 L130.89,396.91 L131.72,397.04 L132.55,397.17 L133.37,397.29 L134.18,397.40 L134.98,397.49 L135.77,397.58 L136.54,397.65 L137.30,397.70 L138.24,397.75 L139.14,397.80 L140.03,397.82 L140.89,397.84 L141.75,397.83 L142.59,397.80 L143.43,397.75 L144.26,397.68 L145.10,397.58 L145.94,397.46 L146.80,397.30 L147.60,397.13 L148.41,396.92 L149.22,396.69 L150.04,396.44 L150.85,396.17 L151.67,395.88 L152.48,395.57 L153.27,395.25 L154.06,394.92 L154.83,394.58 L155.57,394.24 L156.30,393.90 L157.06,393.53 L157.80,393.16 L158.51,392.79 L159.20,392.41 L159.88,392.02 L160.55,391.61 L161.22,391.18 L161.88,390.71 L162.54,390.22 L163.22,389.68 L163.90,389.10 L164.45,388.62 L164.99,388.11 L165.55,387.59 L166.10,387.05 L166.66,386.49 L167.21,385.92 L167.76,385.32 L168.31,384.70 L168.86,384.07 L169.40,383.41 L169.94,382.74 L170.47,382.05 L170.99,381.33 L171.50,380.60 L171.92,379.98 L172.33,379.34 L172.74,378.69 L173.14,378.03 L173.54,377.35 L173.94,376.66 L174.33,375.95 L174.72,375.23 L175.11,374.50 L175.50,373.76 L175.88,373.01 L176.26,372.25 L176.63,371.47 L177.00,370.69 L177.37,369.90 L177.74,369.11 L178.10,368.30 L178.41,367.60 L178.72,366.87 L179.03,366.13 L179.34,365.36 L179.65,364.58 L179.96,363.79 L180.27,362.99 L180.57,362.18 L180.88,361.37 L181.18,360.56 L181.47,359.75 L181.76,358.94 L182.04,358.15 L182.32,357.37 L182.59,356.60 L182.85,355.85 L183.10,355.13 L183.34,354.42 L183.58,353.75 L183.80,353.10 L184.11,352.17 L184.38,351.32 L184.61,350.53 L184.82,349.78 L185.01,349.07 L185.19,348.38 L185.36,347.70 L185.54,347.02 L185.74,346.32 L185.95,345.59 L186.19,344.82 L186.48,344.00 L186.80,343.10 L187.05,342.44 L187.32,341.75 L187.60,341.02 L187.90,340.26 L188.21,339.49 L188.53,338.69 L188.86,337.88 L189.20,337.06 L189.55,336.24 L189.89,335.42 L190.24,334.60 L190.59,333.80 L190.94,333.00 L191.29,332.23 L191.63,331.48 L191.96,330.76 L192.28,330.07 L192.60,329.41 L192.90,328.80 L193.40,327.82 L193.87,326.92 L194.33,326.09 L194.78,325.32 L195.22,324.59 L195.66,323.90 L196.11,323.24 L196.56,322.60 L197.02,321.97 L197.50,321.34 L198.00,320.70 L198.57,319.99 L199.16,319.29 L199.75,318.60 L200.36,317.93 L200.97,317.28 L201.60,316.66 L202.24,316.06 L202.88,315.50 L203.54,314.98 L204.20,314.50 L204.94,314.03 L205.69,313.62 L206.44,313.27 L207.21,312.95 L207.99,312.66 L208.78,312.39 L209.60,312.11 L210.44,311.82 L211.30,311.50 L212.02,311.21 L212.73,310.91 L213.45,310.60 L214.19,310.28 L214.93,309.97 L215.70,309.66 L216.49,309.36 L217.31,309.08 L218.17,308.83 L219.06,308.60 L220.00,308.40 L220.72,308.29 L221.45,308.21 L222.20,308.15 L222.97,308.11 L223.76,308.09 L224.57,308.08 L225.39,308.08 L226.23,308.07 L227.08,308.06 L227.95,308.04 L228.83,308.00 L229.73,307.95 L230.64,307.86 L231.56,307.75 L232.50,307.60 L233.22,307.46 L233.97,307.28 L234.75,307.09 L235.54,306.86 L236.36,306.63 L237.19,306.37 L238.02,306.11 L238.87,305.83 L239.72,305.56 L240.57,305.28 L241.41,305.01 L242.25,304.74 L243.08,304.49 L243.90,304.24 L244.69,304.02 L245.47,303.82 L246.22,303.64 L246.95,303.49 L247.64,303.38 L248.30,303.30 L249.33,303.25 L250.28,303.30 L251.17,303.42 L252.01,303.61 L252.80,303.83 L253.57,304.09 L254.31,304.35 L255.05,304.60 L255.78,304.83 L256.53,305.02 L257.30,305.15 L258.10,305.20 L258.89,305.19 L259.63,305.14 L260.33,305.05 L261.02,304.94 L261.71,304.80 L262.41,304.63 L263.15,304.41 L263.95,304.35 L264.81,304.11 L265.76,303.97 L266.82,303.53 L268.00,303.66 L268.61,303.19 L269.25,303.51 L269.92,303.18 L270.61,303.00 L271.32,303.03 L272.06,303.20 L272.81,302.58 L273.58,302.33 L274.37,302.55 L275.18,302.15 L275.99,301.88 L276.82,301.79 L277.67,301.52 L278.51,301.55 L279.37,301.56 L280.23,301.42 L281.10,301.93 L281.97,301.15 L282.84,301.35 L283.71,300.73 L284.58,300.89 L285.44,300.22 L286.30,300.51 L287.16,300.00 L288.00,301.22 L288.78,300.83 L289.57,300.12 L290.36,300.57 L291.16,301.35 L291.97,299.80 L292.77,301.04 L293.59,300.30 L294.40,300.37 L295.22,300.94 L296.04,300.11 L296.87,300.28 L297.70,300.58 L298.52,301.08 L299.35,299.90 L300.18,300.75 L301.01,300.50 L301.84,300.35 L302.67,299.91 L303.49,299.79 L304.32,299.24 L305.14,299.35 L305.96,299.23 L306.78,300.41 L307.59,299.52 L308.40,299.33 L309.20,299.17 L310.00,300.51 L310.84,300.55 L311.71,300.17 L312.59,299.45 L313.50,299.36 L314.41,299.44 L315.34,299.73 L316.28,299.17 L317.22,299.68 L318.17,299.34 L319.11,300.59 L320.04,300.61 L320.96,299.83 L321.88,299.28 L322.77,300.58 L323.65,299.39 L324.50,299.47 L325.32,298.83 L326.12,299.51 L326.88,299.68 L327.61,299.72 L328.29,299.18 L328.94,299.72 L329.53,298.82 L330.08,299.28 L330.57,298.97 L331.00,299.52" fill="none" stroke="#000" stroke-width="1.5"  stroke-linecap="butt" stroke-linejoin="round"/>
<path d="M69.00,384.00 L69.40,383.75 L69.88,383.44 L70.43,383.08 L71.05,382.68 L71.72,382.24 L72.44,381.78 L73.20,381.29 L73.99,380.78 L74.80,380.26 L75.62,379.74 L76.45,379.21 L77.28,378.69 L78.10,378.18 L78.90,377.70 L79.67,377.23 L80.40,376.80 L81.11,376.38 L81.83,375.97 L82.54,375.55 L83.25,375.13 L83.96,374.72 L84.67,374.31 L85.39,373.91 L86.10,373.51 L86.81,373.12 L87.53,372.74 L88.24,372.37 L88.95,372.01 L89.66,371.66 L90.38,371.33 L91.09,371.01 L91.80,370.70 L92.61,370.35 L93.43,369.99 L94.24,369.63 L95.06,369.27 L95.88,368.91 L96.69,368.58 L97.51,368.26 L98.32,367.98 L99.14,367.73 L99.95,367.53 L100.76,367.38 L101.58,367.28 L102.39,367.26 L103.20,367.30 L103.96,367.42 L104.71,367.61 L105.46,367.87 L106.22,368.19 L106.97,368.56 L107.72,368.97 L108.47,369.41 L109.23,369.88 L109.98,370.36 L110.73,370.84 L111.48,371.31 L112.24,371.78 L112.99,372.22 L113.74,372.63 L114.50,373.00 L115.26,373.35 L116.01,373.69 L116.77,374.03 L117.53,374.37 L118.29,374.71 L119.05,375.04 L119.81,375.36 L120.57,375.68 L121.34,376.00 L122.10,376.30 L122.86,376.60 L123.62,376.89 L124.38,377.17 L125.14,377.44 L125.90,377.70 L126.72,377.97 L127.55,378.25 L128.38,378.53 L129.21,378.81 L130.05,379.08 L130.89,379.34 L131.72,379.59 L132.55,379.82 L133.37,380.02 L134.18,380.20 L134.98,380.35 L135.77,380.47 L136.54,380.56 L137.30,380.60 L138.16,380.61 L138.99,380.58 L139.81,380.51 L140.61,380.41 L141.39,380.28 L142.17,380.11 L142.94,379.90 L143.70,379.65 L144.47,379.37 L145.24,379.05 L146.01,378.69 L146.80,378.30 L147.43,377.96 L148.07,377.59 L148.70,377.20 L149.33,376.79 L149.97,376.36 L150.60,375.90 L151.23,375.41 L151.87,374.91 L152.50,374.38 L153.13,373.82 L153.77,373.24 L154.40,372.64 L155.03,372.02 L155.67,371.37 L156.30,370.70 L156.78,370.18 L157.26,369.64 L157.74,369.07 L158.23,368.50 L158.72,367.90 L159.21,367.29 L159.70,366.67 L160.19,366.03 L160.68,365.38 L161.17,364.73 L161.65,364.06 L162.14,363.38 L162.62,362.70 L163.09,362.01 L163.56,361.31 L164.02,360.61 L164.48,359.91 L164.93,359.21 L165.37,358.50 L165.80,357.80 L166.20,357.13 L166.61,356.44 L167.00,355.75 L167.39,355.05 L167.78,354.34 L168.17,353.62 L168.54,352.90 L168.92,352.18 L169.29,351.45 L169.66,350.71 L170.02,349.97 L170.38,349.23 L170.73,348.49 L171.08,347.75 L171.42,347.01 L171.76,346.27 L172.10,345.53 L172.43,344.79 L172.76,344.06 L173.08,343.33 L173.40,342.60 L173.73,341.83 L174.05,341.06 L174.36,340.27 L174.66,339.48 L174.96,338.69 L175.25,337.89 L175.54,337.09 L175.82,336.29 L176.09,335.49 L176.37,334.70 L176.64,333.91 L176.91,333.13 L177.18,332.37 L177.45,331.61 L177.72,330.86 L177.99,330.13 L178.26,329.42 L178.54,328.73 L178.82,328.05 L179.10,327.40 L179.51,326.50 L179.91,325.62 L180.32,324.77 L180.73,323.94 L181.14,323.14 L181.54,322.36 L181.95,321.61 L182.36,320.88 L182.76,320.17 L183.17,319.49 L183.58,318.83 L183.99,318.20 L184.39,317.59 L184.80,317.00 L185.37,316.23 L185.96,315.51 L186.54,314.85 L187.13,314.24 L187.71,313.68 L188.29,313.15 L188.86,312.65 L189.42,312.18 L189.97,311.73 L190.50,311.30 L191.24,310.65 L191.81,310.10 L192.35,309.62 L193.00,309.21 L193.91,308.85 L195.20,308.50 L195.77,308.38 L196.40,308.28 L197.08,308.18 L197.80,308.08 L198.57,308.00 L199.37,307.92 L200.20,307.84 L201.05,307.77 L201.93,307.70 L202.81,307.64 L203.70,307.58 L204.60,307.51 L205.49,307.45 L206.37,307.39 L207.23,307.33 L208.08,307.27 L208.90,307.20 L209.69,307.14 L210.45,307.08 L211.19,307.04 L211.91,307.00 L212.62,306.96 L213.33,306.93 L214.04,306.90 L214.76,306.86 L215.49,306.82 L216.25,306.78 L217.03,306.73 L217.84,306.68 L218.69,306.61 L219.58,306.53 L220.53,306.43 L221.53,306.33 L222.60,306.20 L223.26,306.12 L223.96,306.02 L224.69,305.91 L225.45,305.80 L226.24,305.68 L227.05,305.55 L227.89,305.41 L228.74,305.27 L229.61,305.12 L230.50,304.97 L231.39,304.82 L232.29,304.66 L233.20,304.51 L234.11,304.35 L235.02,304.20 L235.93,304.04 L236.84,303.89 L237.73,303.75 L238.62,303.60 L239.49,303.46 L240.35,303.33 L241.18,303.21 L242.00,303.09 L242.79,302.98 L243.56,302.88 L244.30,302.79 L245.00,302.72 L245.67,302.65 L246.30,302.60 L247.49,302.54 L248.54,302.53 L249.47,302.57 L250.31,302.65 L251.07,302.76 L251.78,302.89 L252.45,303.02 L253.11,303.17 L253.79,303.31 L254.50,303.43 L255.26,303.53 L256.10,303.60 L257.04,303.62 L258.10,303.60 L258.77,303.56 L259.47,303.52 L260.18,303.46 L260.93,303.38 L261.69,303.30 L262.47,303.18 L263.27,303.09 L264.08,302.96 L264.91,302.92 L265.75,302.79 L266.60,302.76 L267.46,302.61 L268.32,302.52 L269.19,302.50 L270.07,302.10 L270.94,301.93 L271.82,302.28 L272.69,301.52 L273.56,301.88 L274.43,301.71 L275.28,301.02 L276.13,301.72 L276.97,301.72 L277.80,301.35 L278.61,301.41 L279.40,301.45 L280.17,300.50 L280.92,300.94 L281.67,300.84 L282.40,301.27 L283.13,301.18 L283.86,301.17 L284.58,300.72 L285.31,301.20 L286.04,300.79 L286.79,300.76 L287.54,299.87 L288.31,299.46 L289.10,299.60 L289.91,299.96 L290.74,299.45 L291.60,300.73 L292.49,300.19 L293.42,300.27 L294.38,300.23 L295.38,300.29 L296.42,299.91 L297.50,299.01 L298.17,300.42 L298.87,300.31 L299.60,299.86 L300.36,299.90 L301.16,300.11 L301.97,299.03 L302.81,300.23 L303.68,299.34 L304.56,299.01 L305.46,299.35 L306.38,300.17 L307.31,299.22 L308.25,300.18 L309.20,300.60 L310.16,299.73 L311.13,299.52 L312.10,299.69 L313.07,300.06 L314.03,300.20 L315.00,299.93 L315.96,299.97 L316.92,298.96 L317.86,299.08 L318.80,299.27 L319.72,300.15 L320.62,299.36 L321.51,299.83 L322.38,298.83 L323.23,298.92 L324.05,299.29 L324.85,300.02 L325.63,300.06 L326.37,300.03 L327.08,299.33 L327.76,299.74 L328.40,299.64 L329.00,299.65 L329.57,299.02 L330.09,300.41 L330.57,299.16 L331.00,300.56" fill="none" stroke="#800000" stroke-width="1.7" stroke-dasharray="1.0 7.1" stroke-linecap="round" stroke-linejoin="round"/>
<path d="M69.00,376.80 L69.43,376.59 L69.95,376.33 L70.55,376.04 L71.22,375.71 L71.96,375.36 L72.74,374.97 L73.56,374.57 L74.42,374.15 L75.29,373.72 L76.18,373.28 L77.06,372.83 L77.94,372.39 L78.79,371.95 L79.62,371.52 L80.40,371.10 L81.11,370.71 L81.83,370.30 L82.54,369.88 L83.25,369.45 L83.96,369.01 L84.67,368.57 L85.39,368.12 L86.10,367.68 L86.81,367.24 L87.53,366.81 L88.24,366.39 L88.95,365.97 L89.66,365.58 L90.38,365.20 L91.09,364.84 L91.80,364.50 L92.56,364.15 L93.32,363.78 L94.08,363.41 L94.84,363.04 L95.60,362.67 L96.36,362.32 L97.13,361.99 L97.89,361.68 L98.65,361.40 L99.41,361.16 L100.17,360.96 L100.93,360.81 L101.69,360.71 L102.44,360.67 L103.20,360.70 L103.96,360.81 L104.71,361.00 L105.46,361.25 L106.22,361.58 L106.97,361.95 L107.72,362.36 L108.47,362.81 L109.23,363.28 L109.98,363.76 L110.73,364.25 L111.48,364.73 L112.24,365.20 L112.99,365.64 L113.74,366.04 L114.50,366.40 L115.26,366.73 L116.03,367.07 L116.80,367.40 L117.58,367.73 L118.36,368.05 L119.14,368.36 L119.92,368.67 L120.70,368.97 L121.47,369.26 L122.24,369.54 L122.99,369.80 L123.74,370.05 L124.47,370.29 L125.19,370.50 L125.90,370.70 L126.84,370.94 L127.74,371.16 L128.63,371.36 L129.49,371.53 L130.35,371.67 L131.19,371.79 L132.03,371.89 L132.86,371.96 L133.70,372.00 L134.54,372.01 L135.40,372.00 L136.20,371.97 L137.01,371.92 L137.82,371.86 L138.64,371.78 L139.45,371.67 L140.27,371.54 L141.08,371.39 L141.87,371.20 L142.66,370.98 L143.43,370.73 L144.17,370.43 L144.90,370.10 L145.59,369.73 L146.25,369.33 L146.89,368.89 L147.50,368.43 L148.11,367.93 L148.70,367.39 L149.29,366.83 L149.90,366.23 L150.51,365.60 L151.15,364.93 L151.81,364.23 L152.50,363.50 L152.98,362.99 L153.48,362.44 L154.00,361.88 L154.52,361.29 L155.05,360.68 L155.60,360.06 L156.14,359.42 L156.70,358.76 L157.25,358.10 L157.80,357.43 L158.36,356.76 L158.90,356.08 L159.45,355.40 L159.98,354.73 L160.50,354.06 L161.02,353.39 L161.52,352.74 L162.00,352.10 L162.50,351.43 L162.99,350.77 L163.48,350.11 L163.96,349.46 L164.43,348.81 L164.90,348.15 L165.36,347.50 L165.81,346.85 L166.26,346.19 L166.70,345.53 L167.13,344.86 L167.56,344.19 L167.98,343.51 L168.40,342.83 L168.80,342.13 L169.21,341.42 L169.60,340.70 L169.96,340.00 L170.32,339.28 L170.66,338.55 L170.99,337.80 L171.32,337.03 L171.64,336.26 L171.95,335.49 L172.26,334.71 L172.57,333.93 L172.87,333.15 L173.17,332.38 L173.47,331.61 L173.77,330.86 L174.07,330.13 L174.37,329.41 L174.68,328.72 L174.99,328.05 L175.30,327.40 L175.73,326.54 L176.16,325.71 L176.58,324.91 L176.99,324.13 L177.41,323.38 L177.82,322.65 L178.24,321.93 L178.67,321.24 L179.11,320.57 L179.55,319.91 L180.02,319.26 L180.50,318.62 L181.00,318.00 L181.57,317.34 L182.17,316.69 L182.79,316.07 L183.43,315.46 L184.08,314.87 L184.74,314.30 L185.41,313.75 L186.07,313.22 L186.73,312.71 L187.37,312.22 L188.00,311.75 L188.60,311.30 L189.34,310.73 L190.00,310.20 L190.61,309.70 L191.21,309.24 L191.83,308.82 L192.51,308.43 L193.28,308.08 L194.16,307.77 L195.20,307.50 L195.82,307.38 L196.49,307.28 L197.19,307.19 L197.94,307.13 L198.71,307.08 L199.51,307.04 L200.34,307.01 L201.18,306.98 L202.04,306.97 L202.90,306.96 L203.78,306.94 L204.65,306.93 L205.53,306.92 L206.39,306.90 L207.24,306.88 L208.08,306.84 L208.90,306.80 L209.69,306.75 L210.45,306.71 L211.19,306.67 L211.91,306.64 L212.62,306.61 L213.33,306.57 L214.04,306.54 L214.76,306.50 L215.49,306.46 L216.25,306.41 L217.03,306.36 L217.84,306.29 L218.69,306.22 L219.58,306.14 L220.53,306.04 L221.53,305.93 L222.60,305.80 L223.26,305.72 L223.96,305.62 L224.69,305.51 L225.45,305.40 L226.24,305.28 L227.05,305.15 L227.89,305.01 L228.74,304.87 L229.61,304.72 L230.50,304.57 L231.39,304.42 L232.29,304.26 L233.20,304.11 L234.11,303.95 L235.02,303.80 L235.93,303.64 L236.84,303.49 L237.73,303.35 L238.62,303.20 L239.49,303.06 L240.35,302.93 L241.18,302.81 L242.00,302.69 L242.79,302.58 L243.56,302.48 L244.30,302.39 L245.00,302.32 L245.67,302.25 L246.30,302.20 L247.49,302.14 L248.54,302.13 L249.47,302.17 L250.31,302.25 L251.07,302.36 L251.78,302.49 L252.45,302.62 L253.11,302.77 L253.79,302.91 L254.50,303.03 L255.26,303.13 L256.10,303.20 L257.04,303.22 L258.10,303.20 L258.77,303.16 L259.47,303.12 L260.18,303.06 L260.93,302.98 L261.69,302.91 L262.47,302.78 L263.27,302.71 L264.08,302.67 L264.91,302.61 L265.75,302.37 L266.60,302.18 L267.46,302.02 L268.32,302.23 L269.19,301.74 L270.07,301.82 L270.94,301.40 L271.82,301.54 L272.69,301.76 L273.56,300.97 L274.43,301.47 L275.28,301.08 L276.13,301.38 L276.97,301.11 L277.80,300.49 L278.61,301.21 L279.40,300.63 L280.17,299.94 L280.92,299.82 L281.67,300.43 L282.40,300.30 L283.13,300.00 L283.86,299.67 L284.58,299.93 L285.31,299.81 L286.04,300.67 L286.79,299.12 L287.54,300.41 L288.31,300.52 L289.10,299.17 L289.91,300.58 L290.74,300.15 L291.60,300.44 L292.49,299.30 L293.42,299.41 L294.38,299.41 L295.38,300.46 L296.42,299.69 L297.50,299.25 L298.17,299.35 L298.87,299.06 L299.60,298.64 L300.36,298.72 L301.16,300.03 L301.97,299.02 L302.81,300.18 L303.68,298.94 L304.56,298.96 L305.46,299.39 L306.38,298.80 L307.31,299.13 L308.25,300.17 L309.20,300.03 L310.16,299.90 L311.13,299.57 L312.10,300.07 L313.07,300.12 L314.03,299.41 L315.00,299.72 L315.96,298.51 L316.92,299.73 L317.86,299.23 L318.80,299.77 L319.72,299.57 L320.62,298.93 L321.51,298.50 L322.38,300.08 L323.23,298.64 L324.05,299.26 L324.85,299.03 L325.63,298.95 L326.37,299.74 L327.08,300.17 L327.76,298.88 L328.40,299.59 L329.00,298.95 L329.57,299.41 L330.09,299.11 L330.57,298.70 L331.00,298.69" fill="none" stroke="#f5902a" stroke-width="1.6" stroke-dasharray="7.3 5.8" stroke-linecap="butt" stroke-linejoin="round"/>
<path d="M68.80,311.00 L69.17,310.67 L69.64,310.24 L70.19,309.71 L70.80,309.11 L71.47,308.45 L72.19,307.75 L72.93,307.03 L73.70,306.30 L74.48,305.59 L75.26,304.91 L76.02,304.28 L76.76,303.72 L77.45,303.24 L78.10,302.86 L78.69,302.60 L79.21,302.48 L79.92,302.54 L80.54,302.86 L81.09,303.38 L81.58,304.06 L82.02,304.88 L82.43,305.79 L82.82,306.75 L83.20,307.71 L83.60,308.65 L84.01,309.52 L84.36,310.23 L84.70,311.00 L85.02,311.80 L85.34,312.64 L85.65,313.50 L85.95,314.35 L86.25,315.20 L86.55,316.02 L86.86,316.81 L87.17,317.55 L87.49,318.23 L87.81,318.83 L88.38,319.76 L88.95,320.61 L89.53,321.36 L90.12,321.99 L90.72,322.49 L91.36,322.83 L92.02,322.99 L92.71,322.94 L93.44,322.69 L94.19,322.27 L94.96,321.74 L95.74,321.12 L96.53,320.47 L97.32,319.82 L97.87,319.35 L98.42,318.83 L98.97,318.26 L99.53,317.67 L100.09,317.06 L100.66,316.45 L101.24,315.84 L101.82,315.25 L102.42,314.69 L103.03,314.17 L103.71,313.62 L104.40,313.07 L105.09,312.52 L105.80,311.99 L106.52,311.49 L107.25,311.02 L108.02,310.60 L108.81,310.23 L109.63,309.91 L110.40,309.68 L111.19,309.51 L112.01,309.37 L112.85,309.27 L113.70,309.20 L114.57,309.16 L115.45,309.13 L116.34,309.12 L117.24,309.12 L118.14,309.12 L118.97,309.14 L119.83,309.21 L120.71,309.31 L121.60,309.44 L122.50,309.57 L123.40,309.70 L124.29,309.81 L125.16,309.90 L126.02,309.96 L126.85,309.96 L127.64,309.91 L128.49,309.79 L129.33,309.63 L130.15,309.42 L130.96,309.17 L131.74,308.90 L132.50,308.59 L133.23,308.27 L133.94,307.93 L134.61,307.59 L135.25,307.24 L135.99,306.76 L136.65,306.24 L137.26,305.67 L137.83,305.09 L138.38,304.50 L138.93,303.92 L139.48,303.38 L140.05,302.88 L140.69,302.35 L141.27,301.83 L141.82,301.35 L142.41,300.88 L143.07,300.45 L143.83,300.06 L144.76,299.71 L145.38,299.52 L146.06,299.34 L146.80,299.18 L147.57,299.03 L148.38,298.89 L149.21,298.76 L150.06,298.65 L150.92,298.54 L151.78,298.45 L152.62,298.36 L153.46,298.29 L154.26,298.22 L155.13,298.16 L155.99,298.11 L156.86,298.07 L157.72,298.05 L158.59,298.04 L159.45,298.04 L160.31,298.05 L161.18,298.07 L162.04,298.11 L162.91,298.16 L163.77,298.22 L164.56,298.29 L165.36,298.37 L166.15,298.46 L166.94,298.56 L167.73,298.67 L168.53,298.79 L169.32,298.92 L170.11,299.06 L170.90,299.21 L171.69,299.37 L172.49,299.53 L173.28,299.71 L174.07,299.89 L174.86,300.09 L175.66,300.31 L176.45,300.53 L177.24,300.77 L178.03,301.01 L178.83,301.25 L179.62,301.50 L180.41,301.75 L181.20,302.00 L181.99,302.24 L182.79,302.48 L183.59,302.72 L184.40,302.97 L185.23,303.22 L186.06,303.48 L186.89,303.74 L187.72,303.99 L188.54,304.24 L189.34,304.49 L190.12,304.72 L190.88,304.95 L191.60,305.16 L192.29,305.35 L193.24,305.61 L194.07,305.84 L194.84,306.04 L195.57,306.23 L196.31,306.40 L197.08,306.57 L197.93,306.75 L198.90,306.94 L199.61,307.08 L200.36,307.23 L201.15,307.40 L201.96,307.56 L202.80,307.73 L203.65,307.89 L204.52,308.05 L205.39,308.19 L206.26,308.31 L207.12,308.41 L207.97,308.48 L208.81,308.52 L209.63,308.53 L210.45,308.50 L211.26,308.45 L212.08,308.37 L212.89,308.27 L213.71,308.17 L214.53,308.05 L215.34,307.93 L216.16,307.81 L216.97,307.71 L217.79,307.61 L218.61,307.53 L219.44,307.48 L220.26,307.44 L221.09,307.41 L221.91,307.38 L222.74,307.36 L223.57,307.34 L224.40,307.31 L225.22,307.28 L226.05,307.22 L226.87,307.15 L227.70,307.06 L228.52,306.94 L229.34,306.79 L230.16,306.60 L230.98,306.39 L231.79,306.16 L232.61,305.92 L233.43,305.66 L234.24,305.41 L235.06,305.15 L235.87,304.90 L236.69,304.67 L237.51,304.46 L238.33,304.26 L239.15,304.09 L239.98,303.91 L240.80,303.74 L241.63,303.58 L242.46,303.43 L243.28,303.28 L244.11,303.14 L244.94,303.02 L245.76,302.91 L246.59,302.82 L247.41,302.74 L248.24,302.68 L249.06,302.64 L249.88,302.64 L250.69,302.66 L251.51,302.69 L252.32,302.74 L253.14,302.80 L253.96,302.87 L254.77,302.93 L255.59,302.98 L256.40,303.03 L257.22,303.06 L258.04,303.06 L258.87,303.12 L259.69,303.06 L260.52,302.97 L261.34,303.13 L262.17,303.15 L263.00,302.92 L263.83,302.73 L264.65,302.69 L265.48,302.57 L266.30,302.66 L267.13,302.43 L267.95,302.48 L268.77,302.44 L269.59,302.66 L270.41,302.92 L271.22,302.76 L272.04,302.37 L272.86,302.32 L273.67,302.40 L274.49,302.17 L275.30,302.05 L276.12,301.61 L276.94,301.83 L277.76,302.77 L278.58,301.44 L279.41,301.94 L280.23,302.06 L281.06,302.38 L281.89,301.16 L282.71,301.16 L283.54,301.03 L284.37,301.21 L285.19,301.21 L286.02,302.05 L286.84,301.78 L287.67,301.76 L288.49,300.18 L289.31,300.15 L290.12,301.33 L290.94,301.63 L291.76,300.84 L292.57,301.01 L293.39,299.93 L294.20,300.61 L295.02,301.55 L295.83,301.34 L296.65,301.37 L297.47,301.55 L298.30,300.21 L299.12,299.92 L299.95,299.97 L300.77,300.60 L301.60,300.85 L302.43,301.28 L303.26,300.85 L304.08,300.68 L304.91,300.86 L305.73,300.28 L306.56,300.42 L307.38,299.47 L308.19,300.78 L308.98,299.77 L309.75,300.99 L310.51,300.47 L311.27,299.84 L312.04,299.51 L312.82,299.71 L313.63,300.39 L314.46,300.49 L315.32,299.42 L316.23,299.34 L317.19,300.15 L317.92,300.25 L318.71,299.89 L319.56,299.59 L320.46,300.27 L321.38,299.21 L322.32,299.73 L323.28,300.02 L324.23,300.92 L325.18,300.35 L326.10,300.78 L326.98,300.05 L327.83,299.62 L328.62,299.64 L329.34,300.93 L329.98,300.47 L330.54,299.76 L331.00,299.24" fill="none" stroke="#228b22" stroke-width="1.7"  stroke-linecap="butt" stroke-linejoin="round"/>
<line x1="69.40" y1="631.40" x2="69.40" y2="633.90" stroke="#000" stroke-width="1.3" />
<line x1="91.15" y1="631.40" x2="91.15" y2="636.60" stroke="#000" stroke-width="1.3" />
<text x="91.15" y="653.00" font-size="15.3" text-anchor="middle" >300</text>
<line x1="112.90" y1="631.40" x2="112.90" y2="633.90" stroke="#000" stroke-width="1.3" />
<line x1="134.65" y1="631.40" x2="134.65" y2="636.60" stroke="#000" stroke-width="1.3" />
<text x="134.65" y="653.00" font-size="15.3" text-anchor="middle" >400</text>
<line x1="156.40" y1="631.40" x2="156.40" y2="633.90" stroke="#000" stroke-width="1.3" />
<line x1="178.15" y1="631.40" x2="178.15" y2="636.60" stroke="#000" stroke-width="1.3" />
<text x="178.15" y="653.00" font-size="15.3" text-anchor="middle" >500</text>
<line x1="199.90" y1="631.40" x2="199.90" y2="633.90" stroke="#000" stroke-width="1.3" />
<line x1="221.65" y1="631.40" x2="221.65" y2="636.60" stroke="#000" stroke-width="1.3" />
<text x="221.65" y="653.00" font-size="15.3" text-anchor="middle" >600</text>
<line x1="243.40" y1="631.40" x2="243.40" y2="633.90" stroke="#000" stroke-width="1.3" />
<line x1="265.15" y1="631.40" x2="265.15" y2="636.60" stroke="#000" stroke-width="1.3" />
<text x="265.15" y="653.00" font-size="15.3" text-anchor="middle" >700</text>
<line x1="286.90" y1="631.40" x2="286.90" y2="633.90" stroke="#000" stroke-width="1.3" />
<line x1="308.65" y1="631.40" x2="308.65" y2="636.60" stroke="#000" stroke-width="1.3" />
<text x="308.65" y="653.00" font-size="15.3" text-anchor="middle" >800</text>
<line x1="330.40" y1="631.40" x2="330.40" y2="633.90" stroke="#000" stroke-width="1.3" />
<line x1="63.90" y1="631.40" x2="69.40" y2="631.40" stroke="#000" stroke-width="1.3" />
<text x="60.20" y="636.10" font-size="15.3" text-anchor="end" >0</text>
<line x1="66.60" y1="615.15" x2="69.40" y2="615.15" stroke="#000" stroke-width="1.3" />
<line x1="63.90" y1="598.90" x2="69.40" y2="598.90" stroke="#000" stroke-width="1.3" />
<text x="60.20" y="603.60" font-size="15.3" text-anchor="end" >25</text>
<line x1="66.60" y1="582.65" x2="69.40" y2="582.65" stroke="#000" stroke-width="1.3" />
<line x1="63.90" y1="566.40" x2="69.40" y2="566.40" stroke="#000" stroke-width="1.3" />
<text x="60.20" y="571.10" font-size="15.3" text-anchor="end" >50</text>
<line x1="66.60" y1="550.15" x2="69.40" y2="550.15" stroke="#000" stroke-width="1.3" />
<line x1="63.90" y1="533.90" x2="69.40" y2="533.90" stroke="#000" stroke-width="1.3" />
<text x="60.20" y="538.60" font-size="15.3" text-anchor="end" >75</text>
<line x1="66.60" y1="517.65" x2="69.40" y2="517.65" stroke="#000" stroke-width="1.3" />
<line x1="63.90" y1="501.40" x2="69.40" y2="501.40" stroke="#000" stroke-width="1.3" />
<text x="60.20" y="506.10" font-size="15.3" text-anchor="end" >100</text>
<line x1="66.60" y1="485.15" x2="69.40" y2="485.15" stroke="#000" stroke-width="1.3" />
<rect x="69.40" y="470.30" width="261.00" height="161.10" fill="none" stroke="#000" stroke-width="1.3"/>
<text x="200.60" y="681.40" font-size="19.6" text-anchor="middle" >Wavelength (nm)</text>
<text transform="translate(20.40,543.20) rotate(-90)" font-size="19.6" text-anchor="middle">Reflectance(%)</text>
<text x="-1.30" y="461.30" font-size="24.5" text-anchor="start" >(c)</text>
<line x1="73.80" y1="476.00" x2="95.00" y2="476.00" stroke="#000" stroke-width="1.5"  stroke-linecap="butt"/>
<text x="97.90" y="479.30" font-size="9.2" text-anchor="start" class="sm" >Blue printed paper</text>
<line x1="73.80" y1="487.10" x2="95.00" y2="487.10" stroke="#55bbf5" stroke-width="1.6" stroke-dasharray="7.3 5.8" stroke-linecap="butt"/>
<text x="97.90" y="490.40" font-size="9.2" text-anchor="start" class="sm" >Plasma-treated area (after immersion)</text>
<line x1="73.80" y1="498.20" x2="95.00" y2="498.20" stroke="#1a1a99" stroke-width="1.7" stroke-dasharray="1.0 7.1" stroke-linecap="round"/>
<text x="97.90" y="501.50" font-size="9.2" text-anchor="start" class="sm" >Non-treated area (after immersion)</text>
<line x1="73.80" y1="509.30" x2="95.00" y2="509.30" stroke="#228b22" stroke-width="1.7"  stroke-linecap="butt"/>
<text x="97.90" y="512.60" font-size="9.2" text-anchor="start" class="sm" >White paper</text>
<path d="M69.00,612.70 L69.46,612.65 L70.03,612.57 L70.69,612.48 L71.42,612.37 L72.23,612.26 L73.09,612.13 L73.99,612.00 L74.93,611.88 L75.89,611.75 L76.85,611.63 L77.81,611.53 L78.75,611.43 L79.67,611.36 L80.54,611.30 L81.36,611.27 L82.12,611.27 L82.80,611.30 L83.81,611.43 L84.68,611.63 L85.45,611.91 L86.15,612.23 L86.81,612.59 L87.47,612.96 L88.16,613.33 L88.90,613.69 L89.74,614.02 L90.70,614.30 L91.37,614.46 L92.08,614.63 L92.83,614.81 L93.60,614.99 L94.41,615.17 L95.23,615.34 L96.07,615.51 L96.92,615.67 L97.77,615.82 L98.63,615.96 L99.48,616.08 L100.33,616.17 L101.15,616.25 L101.96,616.30 L102.75,616.31 L103.50,616.30 L104.33,616.25 L105.12,616.17 L105.89,616.06 L106.64,615.92 L107.38,615.76 L108.11,615.57 L108.84,615.36 L109.57,615.12 L110.30,614.86 L111.05,614.59 L111.82,614.29 L112.62,613.98 L113.44,613.65 L114.30,613.30 L114.96,613.04 L115.65,612.76 L116.35,612.48 L117.08,612.19 L117.82,611.89 L118.57,611.58 L119.33,611.25 L120.10,610.92 L120.87,610.58 L121.64,610.22 L122.41,609.85 L123.17,609.47 L123.93,609.07 L124.67,608.67 L125.40,608.24 L126.11,607.80 L126.80,607.35 L127.46,606.88 L128.10,606.40 L128.71,605.90 L129.31,605.39 L129.88,604.87 L130.44,604.34 L130.99,603.80 L131.52,603.24 L132.04,602.67 L132.55,602.08 L133.05,601.48 L133.55,600.87 L134.04,600.24 L134.53,599.59 L135.01,598.93 L135.50,598.25 L135.99,597.56 L136.48,596.84 L136.98,596.11 L137.49,595.37 L138.00,594.60 L138.40,593.99 L138.80,593.36 L139.21,592.69 L139.62,592.00 L140.03,591.29 L140.44,590.56 L140.86,589.81 L141.28,589.05 L141.70,588.27 L142.11,587.49 L142.53,586.71 L142.94,585.92 L143.36,585.14 L143.76,584.36 L144.17,583.59 L144.56,582.82 L144.96,582.07 L145.34,581.34 L145.72,580.63 L146.09,579.93 L146.45,579.26 L146.81,578.62 L147.15,578.02 L147.48,577.44 L147.80,576.90 L148.42,575.83 L148.98,574.80 L149.49,573.81 L149.96,572.88 L150.40,572.02 L150.83,571.23 L151.25,570.52 L151.68,569.91 L152.13,569.40 L152.61,569.01 L153.13,568.74 L153.70,568.60 L154.28,568.61 L154.89,568.77 L155.53,569.05 L156.20,569.44 L156.88,569.93 L157.57,570.49 L158.28,571.11 L158.98,571.79 L159.68,572.49 L160.36,573.21 L161.03,573.93 L161.68,574.63 L162.30,575.30 L162.82,575.88 L163.32,576.50 L163.81,577.15 L164.30,577.82 L164.77,578.51 L165.24,579.22 L165.71,579.94 L166.17,580.67 L166.62,581.40 L167.08,582.12 L167.54,582.83 L168.00,583.53 L168.46,584.21 L168.93,584.87 L169.40,585.50 L169.95,586.19 L170.49,586.87 L171.04,587.52 L171.58,588.15 L172.12,588.78 L172.66,589.39 L173.21,590.00 L173.76,590.60 L174.31,591.21 L174.87,591.81 L175.44,592.43 L176.02,593.06 L176.60,593.70 L177.15,594.31 L177.71,594.95 L178.27,595.60 L178.85,596.25 L179.42,596.92 L180.00,597.58 L180.59,598.24 L181.17,598.90 L181.76,599.54 L182.35,600.16 L182.94,600.76 L183.53,601.34 L184.12,601.89 L184.70,602.40 L185.37,602.94 L186.04,603.43 L186.70,603.88 L187.35,604.29 L188.01,604.67 L188.67,605.04 L189.34,605.41 L190.01,605.78 L190.71,606.16 L191.42,606.57 L192.15,607.01 L192.90,607.50 L193.53,607.93 L194.18,608.39 L194.84,608.88 L195.53,609.39 L196.23,609.92 L196.93,610.45 L197.64,610.99 L198.36,611.53 L199.07,612.06 L199.77,612.57 L200.47,613.06 L201.16,613.53 L201.82,613.96 L202.47,614.35 L203.10,614.70 L204.01,615.15 L204.88,615.52 L205.74,615.84 L206.57,616.11 L207.39,616.33 L208.19,616.53 L208.98,616.70 L209.76,616.86 L210.53,617.03 L211.30,617.20 L212.14,617.39 L212.95,617.55 L213.74,617.69 L214.52,617.81 L215.29,617.92 L216.07,618.01 L216.86,618.11 L217.67,618.20 L218.50,618.30 L219.27,618.39 L220.04,618.49 L220.81,618.60 L221.59,618.70 L222.39,618.79 L223.19,618.87 L224.02,618.93 L224.86,618.98 L225.72,619.00 L226.60,619.00 L227.36,618.97 L228.16,618.92 L228.97,618.85 L229.81,618.77 L230.66,618.67 L231.51,618.57 L232.37,618.46 L233.21,618.34 L234.04,618.22 L234.86,618.11 L235.64,618.00 L236.40,617.90 L237.37,617.76 L238.32,617.59 L239.25,617.42 L240.15,617.24 L241.03,617.07 L241.89,616.93 L242.72,616.81 L243.52,616.73 L244.30,616.70 L245.25,616.76 L246.13,616.92 L246.96,617.14 L247.77,617.39 L248.57,617.62 L249.37,617.80 L250.20,617.90 L251.04,617.96 L251.85,618.02 L252.67,618.05 L253.50,618.03 L254.35,617.92 L255.25,617.68 L256.20,617.30 L256.78,617.00 L257.37,616.64 L257.97,616.25 L258.59,615.80 L259.22,615.32 L259.86,614.81 L260.51,614.27 L261.18,613.71 L261.86,613.12 L262.56,612.52 L263.27,611.92 L264.00,611.30 L264.56,610.83 L265.14,610.34 L265.73,609.84 L266.33,609.32 L266.94,608.79 L267.56,608.25 L268.19,607.70 L268.82,607.14 L269.46,606.58 L270.10,606.00 L270.74,605.43 L271.38,604.84 L272.02,604.26 L272.65,603.67 L273.28,603.09 L273.90,602.50 L274.48,601.95 L275.06,601.41 L275.63,600.87 L276.21,600.33 L276.79,599.79 L277.36,599.24 L277.94,598.70 L278.51,598.14 L279.09,597.58 L279.66,597.01 L280.24,596.43 L280.81,595.83 L281.39,595.22 L281.97,594.59 L282.54,593.95 L283.12,593.29 L283.70,592.60 L284.17,592.03 L284.64,591.44 L285.11,590.83 L285.58,590.21 L286.05,589.58 L286.52,588.94 L287.00,588.29 L287.47,587.63 L287.94,586.96 L288.41,586.28 L288.89,585.60 L289.36,584.92 L289.83,584.23 L290.30,583.54 L290.78,582.86 L291.25,582.17 L291.72,581.49 L292.19,580.81 L292.66,580.13 L293.13,579.46 L293.60,578.80 L294.07,578.14 L294.54,577.48 L295.00,576.81 L295.47,576.14 L295.94,575.47 L296.40,574.80 L296.87,574.13 L297.34,573.45 L297.80,572.78 L298.27,572.11 L298.73,571.44 L299.20,570.77 L299.66,570.11 L300.13,569.45 L300.60,568.80 L301.06,568.15 L301.53,567.50 L302.00,566.87 L302.46,566.24 L302.93,565.61 L303.40,565.00 L303.92,564.33 L304.44,563.66 L304.96,563.01 L305.48,562.35 L306.00,561.68 L306.52,561.08 L307.04,560.48 L307.56,559.75 L308.08,559.08 L308.60,558.51 L309.13,557.91 L309.65,557.36 L310.17,556.63 L310.69,556.20 L311.21,555.60 L311.74,554.93 L312.26,554.24 L312.78,553.96 L313.30,553.12 L313.89,552.71 L314.49,551.79 L315.10,551.14 L315.71,550.80 L316.33,549.91 L316.96,549.67 L317.58,548.78 L318.19,547.97 L318.80,547.39 L319.41,546.93 L320.00,546.55 L320.58,546.22 L321.15,545.05 L321.69,544.73 L322.22,544.07 L322.72,544.27 L323.20,543.08 L324.06,542.18 L324.89,541.44 L325.68,541.08 L326.42,541.00 L327.10,540.44 L327.72,539.78 L328.26,539.66 L328.73,539.22 L329.10,538.20" fill="none" stroke="#000" stroke-width="1.5"  stroke-linecap="butt" stroke-linejoin="round"/>
<path d="M69.00,590.70 L69.43,590.49 L69.94,590.21 L70.52,589.86 L71.18,589.47 L71.89,589.04 L72.65,588.59 L73.46,588.11 L74.30,587.62 L75.16,587.13 L76.05,586.65 L76.94,586.20 L77.84,585.77 L78.73,585.38 L79.60,585.05 L80.46,584.77 L81.28,584.56 L82.06,584.44 L82.80,584.40 L83.59,584.46 L84.36,584.62 L85.12,584.86 L85.87,585.18 L86.60,585.56 L87.33,586.00 L88.05,586.47 L88.76,586.99 L89.48,587.52 L90.19,588.07 L90.91,588.63 L91.63,589.18 L92.35,589.71 L93.09,590.21 L93.84,590.68 L94.60,591.10 L95.33,591.48 L96.08,591.89 L96.85,592.32 L97.63,592.76 L98.41,593.21 L99.20,593.66 L99.99,594.10 L100.79,594.53 L101.58,594.95 L102.36,595.34 L103.13,595.71 L103.89,596.04 L104.64,596.34 L105.36,596.59 L106.07,596.78 L106.75,596.92 L107.40,597.00 L108.28,597.01 L109.12,596.93 L109.92,596.75 L110.69,596.50 L111.44,596.17 L112.16,595.78 L112.86,595.34 L113.55,594.85 L114.24,594.32 L114.92,593.77 L115.61,593.19 L116.30,592.60 L116.85,592.12 L117.39,591.63 L117.91,591.11 L118.43,590.58 L118.94,590.03 L119.44,589.45 L119.94,588.85 L120.45,588.22 L120.95,587.56 L121.46,586.86 L121.98,586.13 L122.51,585.36 L123.06,584.55 L123.62,583.70 L124.20,582.80 L124.56,582.24 L124.93,581.65 L125.30,581.04 L125.68,580.40 L126.07,579.75 L126.46,579.08 L126.86,578.39 L127.26,577.69 L127.67,576.98 L128.07,576.25 L128.48,575.51 L128.89,574.77 L129.31,574.02 L129.72,573.26 L130.13,572.50 L130.53,571.73 L130.94,570.97 L131.34,570.20 L131.74,569.44 L132.13,568.68 L132.52,567.93 L132.90,567.18 L133.27,566.44 L133.64,565.72 L134.00,565.00 L134.37,564.25 L134.72,563.50 L135.08,562.73 L135.43,561.95 L135.77,561.17 L136.11,560.39 L136.44,559.60 L136.77,558.80 L137.10,558.01 L137.43,557.22 L137.75,556.44 L138.07,555.66 L138.39,554.88 L138.70,554.12 L139.02,553.36 L139.34,552.62 L139.65,551.89 L139.97,551.17 L140.29,550.48 L140.61,549.80 L140.93,549.14 L141.25,548.50 L141.57,547.89 L141.90,547.30 L142.43,546.40 L142.95,545.54 L143.48,544.72 L144.01,543.94 L144.54,543.20 L145.06,542.49 L145.59,541.81 L146.12,541.17 L146.65,540.55 L147.17,539.97 L147.70,539.41 L148.23,538.87 L148.75,538.36 L149.28,537.87 L149.80,537.40 L150.57,536.73 L151.33,536.10 L152.08,535.51 L152.83,534.99 L153.57,534.53 L154.33,534.14 L155.11,533.83 L155.91,533.62 L156.74,533.51 L157.60,533.50 L158.29,533.57 L159.01,533.71 L159.74,533.91 L160.49,534.16 L161.26,534.47 L162.03,534.83 L162.82,535.23 L163.60,535.68 L164.39,536.16 L165.18,536.68 L165.96,537.23 L166.74,537.80 L167.50,538.40 L168.05,538.85 L168.60,539.34 L169.15,539.85 L169.71,540.39 L170.27,540.95 L170.82,541.53 L171.38,542.13 L171.93,542.75 L172.49,543.38 L173.04,544.02 L173.59,544.67 L174.13,545.33 L174.67,545.99 L175.21,546.66 L175.74,547.32 L176.27,547.99 L176.79,548.65 L177.30,549.30 L177.81,549.96 L178.32,550.66 L178.83,551.37 L179.33,552.10 L179.84,552.85 L180.34,553.60 L180.83,554.36 L181.33,555.12 L181.81,555.88 L182.29,556.63 L182.77,557.37 L183.23,558.09 L183.69,558.78 L184.13,559.46 L184.57,560.10 L184.99,560.71 L185.40,561.27 L185.80,561.80 L186.55,562.72 L187.25,563.50 L187.90,564.17 L188.52,564.75 L189.10,565.27 L189.68,565.77 L190.24,566.27 L190.82,566.80 L191.40,567.40 L191.99,568.04 L192.58,568.67 L193.16,569.31 L193.73,569.95 L194.30,570.59 L194.86,571.25 L195.41,571.92 L195.96,572.60 L196.50,573.30 L196.98,573.95 L197.46,574.62 L197.93,575.31 L198.40,576.01 L198.86,576.72 L199.32,577.43 L199.77,578.14 L200.22,578.84 L200.66,579.53 L201.10,580.20 L201.57,580.94 L202.01,581.67 L202.44,582.39 L202.86,583.11 L203.28,583.82 L203.72,584.52 L204.18,585.22 L204.67,585.91 L205.20,586.60 L205.72,587.22 L206.26,587.85 L206.83,588.48 L207.41,589.11 L208.01,589.72 L208.62,590.33 L209.24,590.91 L209.87,591.48 L210.49,592.01 L211.10,592.50 L211.78,592.99 L212.46,593.43 L213.14,593.82 L213.82,594.18 L214.52,594.53 L215.22,594.88 L215.93,595.25 L216.66,595.65 L217.40,596.10 L218.08,596.56 L218.77,597.07 L219.47,597.62 L220.18,598.19 L220.90,598.76 L221.63,599.32 L222.36,599.85 L223.10,600.33 L223.85,600.76 L224.60,601.10 L225.45,601.41 L226.31,601.68 L227.18,601.90 L228.06,602.07 L228.95,602.19 L229.84,602.26 L230.73,602.26 L231.62,602.21 L232.50,602.10 L233.30,601.90 L234.11,601.58 L234.93,601.18 L235.76,600.72 L236.57,600.24 L237.38,599.76 L238.18,599.31 L238.95,598.94 L239.69,598.65 L240.40,598.50 L241.33,598.47 L242.17,598.60 L242.96,598.86 L243.74,599.21 L244.53,599.62 L245.37,600.06 L246.30,600.50 L246.95,600.82 L247.66,601.23 L248.39,601.69 L249.15,602.19 L249.92,602.69 L250.70,603.18 L251.46,603.62 L252.21,604.00 L252.92,604.29 L253.59,604.47 L254.20,604.50 L254.95,604.38 L255.61,604.13 L256.21,603.75 L256.78,603.23 L257.32,602.55 L257.88,601.71 L258.46,600.70 L259.10,599.50 L259.37,598.96 L259.65,598.36 L259.92,597.72 L260.20,597.03 L260.48,596.31 L260.76,595.55 L261.05,594.76 L261.34,593.95 L261.63,593.11 L261.93,592.26 L262.22,591.40 L262.52,590.53 L262.82,589.65 L263.12,588.78 L263.43,587.91 L263.74,587.05 L264.05,586.21 L264.37,585.38 L264.68,584.58 L265.00,583.80 L265.32,583.04 L265.65,582.28 L265.97,581.52 L266.30,580.77 L266.63,580.01 L266.96,579.26 L267.30,578.51 L267.64,577.77 L267.98,577.02 L268.32,576.28 L268.67,575.54 L269.02,574.80 L269.37,574.07 L269.72,573.34 L270.08,572.61 L270.44,571.88 L270.80,571.16 L271.16,570.44 L271.53,569.72 L271.90,569.00 L272.29,568.25 L272.68,567.50 L273.07,566.74 L273.46,565.99 L273.86,565.25 L274.25,564.50 L274.65,563.76 L275.05,563.02 L275.46,562.28 L275.87,561.55 L276.28,560.82 L276.70,560.09 L277.12,559.38 L277.55,558.66 L277.99,557.96 L278.43,557.26 L278.88,556.56 L279.34,555.88 L279.80,555.20 L280.27,554.53 L280.75,553.86 L281.23,553.19 L281.72,552.53 L282.21,551.88 L282.71,551.23 L283.22,550.58 L283.73,549.94 L284.25,549.31 L284.77,548.68 L285.29,548.06 L285.83,547.45 L286.37,546.84 L286.91,546.25 L287.46,545.66 L288.01,545.08 L288.57,544.51 L289.13,543.95 L289.70,543.40 L290.31,542.83 L290.93,542.26 L291.56,541.70 L292.19,541.15 L292.84,540.61 L293.49,540.07 L294.15,539.54 L294.81,539.03 L295.48,538.52 L296.15,538.02 L296.82,537.54 L297.50,537.06 L298.17,536.60 L298.84,536.15 L299.51,535.72 L300.18,535.30 L300.84,534.89 L301.50,534.50 L302.28,534.06 L303.04,533.64 L303.80,533.25 L304.54,532.88 L305.29,532.56 L306.03,532.23 L306.77,531.84 L307.53,531.62 L308.29,531.28 L309.07,530.99 L309.87,530.69 L310.68,530.36 L311.53,530.01 L312.40,529.81 L313.30,529.54 L314.02,529.59 L314.79,528.96 L315.60,529.16 L316.46,528.51 L317.34,528.35 L318.24,528.42 L319.16,528.20 L320.09,527.69 L321.02,527.15 L321.94,527.27 L322.84,526.96 L323.73,527.26 L324.58,526.37 L325.40,526.34 L326.17,526.71 L326.89,525.62 L327.55,525.88 L328.14,526.19 L328.66,526.02 L329.10,525.05" fill="none" stroke="#1a1a99" stroke-width="1.7" stroke-dasharray="1.0 7.1" stroke-linecap="round" stroke-linejoin="round"/>
<path d="M69.00,577.80 L69.42,577.55 L69.92,577.20 L70.51,576.78 L71.16,576.30 L71.88,575.78 L72.64,575.22 L73.45,574.65 L74.28,574.08 L75.13,573.52 L76.00,573.00 L76.86,572.52 L77.71,572.09 L78.54,571.75 L79.34,571.49 L80.09,571.33 L80.80,571.30 L81.51,571.40 L82.20,571.61 L82.87,571.92 L83.53,572.33 L84.17,572.81 L84.81,573.35 L85.44,573.94 L86.06,574.57 L86.69,575.21 L87.33,575.87 L87.97,576.52 L88.63,577.15 L89.30,577.75 L89.99,578.31 L90.70,578.80 L91.39,579.25 L92.10,579.72 L92.82,580.21 L93.56,580.71 L94.31,581.21 L95.07,581.72 L95.84,582.21 L96.61,582.69 L97.37,583.14 L98.14,583.57 L98.90,583.95 L99.65,584.30 L100.38,584.59 L101.11,584.83 L101.81,585.00 L102.50,585.10 L103.32,585.13 L104.14,585.06 L104.94,584.91 L105.73,584.68 L106.50,584.38 L107.27,584.03 L108.02,583.63 L108.76,583.20 L109.49,582.74 L110.21,582.26 L110.92,581.77 L111.61,581.28 L112.30,580.80 L112.97,580.32 L113.62,579.80 L114.25,579.26 L114.87,578.70 L115.48,578.11 L116.07,577.50 L116.66,576.88 L117.25,576.24 L117.83,575.59 L118.42,574.93 L119.00,574.26 L119.60,573.58 L120.20,572.90 L120.73,572.31 L121.25,571.70 L121.78,571.10 L122.31,570.48 L122.83,569.85 L123.36,569.22 L123.89,568.57 L124.41,567.92 L124.94,567.26 L125.47,566.59 L125.99,565.91 L126.52,565.22 L127.05,564.53 L127.57,563.82 L128.10,563.10 L128.56,562.46 L129.03,561.81 L129.50,561.15 L129.96,560.48 L130.43,559.81 L130.89,559.13 L131.36,558.44 L131.82,557.75 L132.29,557.05 L132.75,556.34 L133.22,555.63 L133.68,554.90 L134.15,554.18 L134.61,553.44 L135.08,552.70 L135.54,551.95 L136.00,551.20 L136.41,550.51 L136.82,549.80 L137.24,549.06 L137.65,548.31 L138.06,547.55 L138.47,546.78 L138.88,546.00 L139.29,545.22 L139.70,544.43 L140.10,543.66 L140.51,542.88 L140.92,542.12 L141.33,541.38 L141.74,540.65 L142.15,539.94 L142.56,539.26 L142.98,538.61 L143.39,537.99 L143.80,537.40 L144.40,536.59 L145.01,535.81 L145.62,535.07 L146.22,534.37 L146.83,533.70 L147.44,533.07 L148.05,532.47 L148.66,531.90 L149.27,531.38 L149.87,530.88 L150.48,530.42 L151.09,529.99 L151.70,529.60 L152.49,529.14 L153.28,528.73 L154.07,528.39 L154.86,528.10 L155.65,527.87 L156.44,527.70 L157.23,527.58 L158.02,527.53 L158.81,527.53 L159.60,527.60 L160.32,527.73 L161.04,527.94 L161.75,528.21 L162.47,528.54 L163.19,528.91 L163.91,529.32 L164.63,529.75 L165.35,530.20 L166.06,530.64 L166.78,531.08 L167.50,531.50 L168.22,531.90 L168.94,532.30 L169.65,532.71 L170.37,533.12 L171.09,533.54 L171.81,533.98 L172.53,534.43 L173.25,534.90 L173.96,535.41 L174.68,535.94 L175.40,536.50 L176.01,537.01 L176.62,537.53 L177.23,538.09 L177.83,538.66 L178.44,539.25 L179.05,539.85 L179.66,540.47 L180.27,541.09 L180.88,541.73 L181.48,542.37 L182.09,543.01 L182.70,543.66 L183.30,544.30 L183.86,544.90 L184.42,545.50 L184.98,546.12 L185.53,546.73 L186.09,547.36 L186.64,547.98 L187.20,548.62 L187.76,549.26 L188.31,549.90 L188.87,550.55 L189.42,551.21 L189.98,551.87 L190.54,552.53 L191.10,553.20 L191.62,553.82 L192.13,554.43 L192.64,555.04 L193.15,555.64 L193.65,556.25 L194.16,556.86 L194.66,557.47 L195.17,558.10 L195.69,558.75 L196.21,559.41 L196.75,560.09 L197.29,560.80 L197.85,561.53 L198.42,562.30 L199.00,563.10 L199.41,563.67 L199.83,564.27 L200.25,564.89 L200.68,565.53 L201.12,566.19 L201.56,566.87 L202.01,567.55 L202.46,568.25 L202.91,568.96 L203.37,569.67 L203.83,570.39 L204.29,571.10 L204.76,571.82 L205.22,572.53 L205.69,573.24 L206.15,573.94 L206.62,574.62 L207.08,575.29 L207.54,575.95 L208.00,576.59 L208.45,577.21 L208.90,577.80 L209.45,578.51 L209.99,579.22 L210.54,579.92 L211.08,580.62 L211.63,581.31 L212.17,581.99 L212.71,582.66 L213.26,583.31 L213.80,583.95 L214.34,584.57 L214.89,585.17 L215.43,585.76 L215.97,586.31 L216.52,586.85 L217.06,587.36 L217.61,587.83 L218.15,588.28 L218.70,588.70 L219.45,589.23 L220.18,589.71 L220.90,590.15 L221.61,590.54 L222.32,590.89 L223.04,591.19 L223.76,591.45 L224.50,591.67 L225.26,591.85 L226.05,591.99 L226.86,592.10 L227.71,592.17 L228.60,592.20 L229.32,592.18 L230.07,592.09 L230.85,591.94 L231.66,591.75 L232.50,591.52 L233.34,591.26 L234.20,590.98 L235.07,590.70 L235.94,590.40 L236.81,590.12 L237.67,589.85 L238.52,589.61 L239.35,589.40 L240.15,589.24 L240.94,589.13 L241.69,589.08 L242.40,589.10 L243.29,589.23 L244.16,589.46 L244.99,589.77 L245.81,590.15 L246.59,590.59 L247.36,591.06 L248.10,591.56 L248.82,592.06 L249.53,592.56 L250.22,593.04 L250.89,593.48 L251.55,593.87 L252.20,594.20 L253.10,594.70 L253.97,595.30 L254.79,595.95 L255.58,596.56 L256.33,597.07 L257.06,597.40 L257.76,597.48 L258.44,597.23 L259.10,596.60 L259.35,596.23 L259.59,595.78 L259.83,595.26 L260.06,594.68 L260.28,594.04 L260.49,593.34 L260.70,592.60 L260.91,591.82 L261.11,591.00 L261.31,590.15 L261.51,589.28 L261.70,588.38 L261.90,587.47 L262.10,586.55 L262.29,585.63 L262.49,584.71 L262.69,583.80 L262.90,582.90 L263.11,582.02 L263.32,581.17 L263.54,580.34 L263.77,579.55 L264.00,578.80 L264.26,578.00 L264.52,577.21 L264.78,576.42 L265.05,575.64 L265.31,574.85 L265.58,574.08 L265.85,573.30 L266.12,572.54 L266.40,571.77 L266.68,571.01 L266.96,570.26 L267.24,569.52 L267.53,568.77 L267.83,568.04 L268.12,567.31 L268.42,566.59 L268.73,565.88 L269.04,565.17 L269.35,564.47 L269.67,563.78 L270.00,563.10 L270.38,562.32 L270.77,561.55 L271.15,560.80 L271.53,560.06 L271.92,559.34 L272.31,558.62 L272.71,557.92 L273.12,557.22 L273.53,556.52 L273.95,555.84 L274.39,555.15 L274.83,554.47 L275.29,553.78 L275.76,553.10 L276.24,552.41 L276.74,551.71 L277.26,551.01 L277.80,550.30 L278.28,549.68 L278.77,549.05 L279.29,548.41 L279.81,547.76 L280.35,547.11 L280.90,546.45 L281.47,545.79 L282.04,545.12 L282.62,544.46 L283.20,543.81 L283.80,543.16 L284.39,542.51 L284.99,541.88 L285.59,541.26 L286.19,540.65 L286.79,540.06 L287.38,539.48 L287.97,538.93 L288.55,538.40 L289.13,537.88 L289.70,537.40 L290.40,536.84 L291.09,536.31 L291.79,535.81 L292.48,535.34 L293.18,534.90 L293.87,534.48 L294.57,534.08 L295.26,533.70 L295.95,533.33 L296.65,532.97 L297.34,532.62 L298.03,532.27 L298.73,531.93 L299.42,531.58 L300.11,531.23 L300.81,530.87 L301.50,530.50 L302.23,530.10 L302.95,529.69 L303.66,529.29 L304.36,528.88 L305.05,528.47 L305.75,528.11 L306.45,527.66 L307.15,527.33 L307.86,526.99 L308.58,526.52 L309.32,526.13 L310.07,525.97 L310.84,525.54 L311.63,525.10 L312.45,524.97 L313.30,524.52 L314.02,524.28 L314.79,523.93 L315.60,524.11 L316.46,524.02 L317.34,523.68 L318.24,523.71 L319.16,522.91 L320.09,522.88 L321.02,522.91 L321.94,523.17 L322.84,523.04 L323.73,522.40 L324.58,522.14 L325.40,522.19 L326.17,522.14 L326.89,522.51 L327.55,521.60 L328.14,522.21 L328.66,522.05 L329.10,522.08" fill="none" stroke="#55bbf5" stroke-width="1.6" stroke-dasharray="7.3 5.8" stroke-linecap="butt" stroke-linejoin="round"/>
<path d="M68.80,533.75 L69.18,533.42 L69.64,532.99 L70.18,532.46 L70.80,531.85 L71.46,531.19 L72.17,530.49 L72.92,529.77 L73.69,529.04 L74.46,528.33 L75.23,527.65 L75.99,527.02 L76.72,526.45 L77.42,525.97 L78.07,525.60 L78.65,525.34 L79.17,525.22 L79.88,525.28 L80.50,525.59 L81.04,526.11 L81.53,526.80 L81.97,527.62 L82.38,528.53 L82.76,529.49 L83.15,530.46 L83.54,531.40 L83.95,532.26 L84.30,532.98 L84.63,533.74 L84.96,534.56 L85.27,535.39 L85.58,536.25 L85.88,537.11 L86.18,537.95 L86.48,538.78 L86.79,539.57 L87.09,540.31 L87.41,540.99 L87.74,541.59 L88.30,542.52 L88.87,543.37 L89.45,544.12 L90.03,544.76 L90.63,545.25 L91.26,545.59 L91.92,545.76 L92.62,545.71 L93.34,545.46 L94.09,545.04 L94.86,544.50 L95.63,543.89 L96.42,543.23 L97.20,542.58 L97.75,542.11 L98.30,541.59 L98.85,541.02 L99.40,540.43 L99.96,539.82 L100.53,539.21 L101.10,538.60 L101.68,538.01 L102.28,537.45 L102.88,536.93 L103.57,536.37 L104.25,535.82 L104.94,535.27 L105.64,534.74 L106.36,534.24 L107.10,533.77 L107.86,533.35 L108.64,532.97 L109.46,532.66 L110.23,532.43 L111.02,532.25 L111.83,532.12 L112.67,532.02 L113.52,531.95 L114.38,531.90 L115.26,531.88 L116.14,531.87 L117.04,531.87 L117.93,531.87 L118.76,531.89 L119.62,531.96 L120.49,532.06 L121.38,532.18 L122.28,532.31 L123.17,532.44 L124.05,532.56 L124.93,532.65 L125.78,532.71 L126.61,532.71 L127.40,532.66 L128.25,532.54 L129.08,532.37 L129.90,532.16 L130.70,531.92 L131.48,531.64 L132.24,531.34 L132.97,531.02 L133.67,530.68 L134.34,530.33 L134.97,529.98 L135.71,529.51 L136.37,528.98 L136.98,528.41 L137.55,527.83 L138.09,527.24 L138.63,526.66 L139.18,526.11 L139.76,525.61 L140.39,525.08 L140.96,524.57 L141.52,524.08 L142.10,523.62 L142.76,523.19 L143.52,522.79 L144.44,522.44 L145.12,522.23 L145.87,522.04 L146.68,521.87 L147.53,521.71 L148.42,521.56 L149.34,521.43 L150.26,521.31 L151.20,521.20 L152.12,521.11 L153.03,521.02 L153.91,520.95 L154.77,520.89 L155.63,520.84 L156.49,520.80 L157.35,520.78 L158.21,520.77 L159.07,520.77 L159.93,520.78 L160.79,520.80 L161.65,520.84 L162.52,520.89 L163.38,520.95 L164.24,521.02 L165.10,521.11 L165.96,521.21 L166.82,521.33 L167.68,521.45 L168.54,521.59 L169.40,521.74 L170.26,521.90 L171.12,522.07 L171.98,522.25 L172.84,522.44 L173.63,522.62 L174.42,522.83 L175.21,523.04 L176.00,523.27 L176.79,523.50 L177.58,523.74 L178.37,523.99 L179.15,524.24 L179.94,524.48 L180.73,524.73 L181.52,524.98 L182.31,525.22 L183.11,525.46 L183.92,525.71 L184.75,525.96 L185.57,526.22 L186.40,526.47 L187.22,526.73 L188.04,526.98 L188.84,527.23 L189.61,527.46 L190.37,527.69 L191.09,527.90 L191.78,528.09 L192.72,528.35 L193.55,528.58 L194.31,528.78 L195.04,528.97 L195.77,529.14 L196.55,529.32 L197.40,529.49 L198.36,529.68 L199.06,529.82 L199.81,529.98 L200.59,530.14 L201.40,530.31 L202.24,530.47 L203.09,530.64 L203.95,530.79 L204.82,530.93 L205.68,531.05 L206.54,531.15 L207.39,531.23 L208.22,531.27 L209.04,531.28 L209.85,531.25 L210.67,531.19 L211.48,531.12 L212.29,531.02 L213.10,530.91 L213.92,530.79 L214.73,530.67 L215.54,530.56 L216.36,530.45 L217.17,530.35 L217.99,530.28 L218.81,530.22 L219.63,530.18 L220.45,530.15 L221.27,530.13 L222.10,530.11 L222.92,530.09 L223.74,530.06 L224.57,530.02 L225.39,529.97 L226.21,529.90 L227.03,529.80 L227.85,529.68 L228.67,529.53 L229.49,529.34 L230.30,529.13 L231.11,528.90 L231.92,528.66 L232.74,528.40 L233.55,528.15 L234.36,527.89 L235.17,527.64 L235.99,527.41 L236.80,527.19 L237.62,527.00 L238.44,526.83 L239.26,526.65 L240.08,526.48 L240.90,526.32 L241.73,526.16 L242.55,526.02 L243.38,525.88 L244.20,525.76 L245.02,525.65 L245.85,525.55 L246.67,525.47 L247.49,525.42 L248.30,525.38 L249.12,525.38 L249.93,525.39 L250.75,525.43 L251.56,525.48 L252.37,525.54 L253.18,525.60 L253.99,525.67 L254.81,525.72 L255.62,525.77 L256.44,525.80 L257.25,525.83 L258.07,525.82 L258.89,525.76 L259.71,525.73 L260.54,525.71 L261.36,525.81 L262.19,525.50 L263.01,525.49 L263.83,525.73 L264.66,525.40 L265.48,525.22 L266.30,525.13 L267.12,525.46 L267.94,525.23 L268.75,525.76 L269.56,525.65 L270.38,525.74 L271.19,524.95 L272.00,524.69 L272.81,524.63 L273.63,525.05 L274.44,525.27 L275.25,524.87 L276.07,524.51 L276.88,524.70 L277.70,524.93 L278.52,524.95 L279.35,524.99 L280.17,525.09 L280.99,524.69 L281.82,523.63 L282.64,524.83 L283.47,523.76 L284.29,524.16 L285.11,523.73 L285.93,524.32 L286.75,523.29 L287.57,523.32 L288.38,523.27 L289.20,523.06 L290.01,524.34 L290.82,523.76 L291.63,523.28 L292.45,523.38 L293.26,524.43 L294.07,523.53 L294.88,523.01 L295.70,524.02 L296.52,523.71 L297.34,524.28 L298.16,522.65 L298.98,523.28 L299.80,523.87 L300.63,523.87 L301.45,523.97 L302.27,522.36 L303.10,522.78 L303.92,522.43 L304.74,522.53 L305.56,523.91 L306.38,523.18 L307.19,523.78 L307.97,522.76 L308.74,523.62 L309.50,522.85 L310.26,522.49 L311.02,523.41 L311.80,523.70 L312.60,522.17 L313.43,523.04 L314.29,523.07 L315.20,522.34 L316.15,522.60 L316.88,522.18 L317.67,522.29 L318.51,522.38 L319.40,523.00 L320.32,523.09 L321.26,522.29 L322.21,521.94 L323.16,522.51 L324.10,523.14 L325.02,522.26 L325.90,522.49 L326.74,522.30 L327.53,523.36 L328.25,522.92 L328.89,522.05 L329.44,522.12 L329.90,522.65" fill="none" stroke="#228b22" stroke-width="1.7"  stroke-linecap="butt" stroke-linejoin="round"/>
<line x1="412.80" y1="187.30" x2="418.50" y2="187.30" stroke="#000" stroke-width="1.3" />
<text x="408.00" y="192.40" font-size="15.3" text-anchor="end" >0</text>
<line x1="415.70" y1="164.08" x2="418.50" y2="164.08" stroke="#000" stroke-width="1.3" />
<line x1="412.80" y1="140.86" x2="418.50" y2="140.86" stroke="#000" stroke-width="1.3" />
<text x="408.00" y="145.96" font-size="15.3" text-anchor="end" >40</text>
<line x1="415.70" y1="117.64" x2="418.50" y2="117.64" stroke="#000" stroke-width="1.3" />
<line x1="412.80" y1="94.42" x2="418.50" y2="94.42" stroke="#000" stroke-width="1.3" />
<text x="408.00" y="99.52" font-size="15.3" text-anchor="end" >80</text>
<line x1="415.70" y1="71.20" x2="418.50" y2="71.20" stroke="#000" stroke-width="1.3" />
<line x1="412.80" y1="47.98" x2="418.50" y2="47.98" stroke="#000" stroke-width="1.3" />
<text x="408.00" y="53.08" font-size="15.3" text-anchor="end" >120</text>
<line x1="415.70" y1="24.76" x2="418.50" y2="24.76" stroke="#000" stroke-width="1.3" />
<rect x="424.99" y="131.69" width="17.0" height="55.61" fill="url(#hatch)" stroke="#333" stroke-width="1"/>
<line x1="430.19" y1="131.69" x2="436.59" y2="131.69" stroke="#000" stroke-width="1.5"/>
<text x="433.49" y="130.09" font-size="8.8" text-anchor="middle" class="sm" >47.9</text>
<rect x="443.34" y="138.77" width="17.0" height="48.53" fill="#c0c0c0" stroke="#333" stroke-width="1"/>
<line x1="448.54" y1="138.77" x2="454.94" y2="138.77" stroke="#000" stroke-width="1.5"/>
<text x="451.84" y="137.17" font-size="8.8" text-anchor="middle" class="sm" >41.8</text>
<rect x="461.69" y="163.73" width="17.0" height="23.57" fill="#fff" stroke="#333" stroke-width="1"/>
<line x1="466.89" y1="163.73" x2="473.29" y2="163.73" stroke="#000" stroke-width="1.5"/>
<text x="470.19" y="162.13" font-size="8.8" text-anchor="middle" class="sm" >20.3</text>
<text x="450.49" y="212.00" font-size="12" text-anchor="middle" >Non-treated</text>
<rect x="490.96" y="130.99" width="17.0" height="56.31" fill="url(#hatch)" stroke="#333" stroke-width="1"/>
<line x1="496.16" y1="130.99" x2="502.56" y2="130.99" stroke="#000" stroke-width="1.5"/>
<text x="499.46" y="129.39" font-size="8.8" text-anchor="middle" class="sm" >48.5</text>
<rect x="509.31" y="139.47" width="17.0" height="47.83" fill="#c0c0c0" stroke="#333" stroke-width="1"/>
<line x1="514.51" y1="139.47" x2="520.91" y2="139.47" stroke="#000" stroke-width="1.5"/>
<text x="517.81" y="137.87" font-size="8.8" text-anchor="middle" class="sm" >41.2</text>
<rect x="527.66" y="163.73" width="17.0" height="23.57" fill="#fff" stroke="#333" stroke-width="1"/>
<line x1="532.86" y1="163.73" x2="539.26" y2="163.73" stroke="#000" stroke-width="1.5"/>
<text x="536.16" y="162.13" font-size="8.8" text-anchor="middle" class="sm" >20.3</text>
<text x="517.46" y="203.60" font-size="12" text-anchor="middle" >Plasma</text>
<text x="517.46" y="218.30" font-size="12" text-anchor="middle" >treated</text>
<rect x="556.94" y="116.71" width="17.0" height="70.59" fill="url(#hatch)" stroke="#333" stroke-width="1"/>
<line x1="562.14" y1="116.71" x2="568.54" y2="116.71" stroke="#000" stroke-width="1.5"/>
<text x="565.44" y="115.11" font-size="8.8" text-anchor="middle" class="sm" >60.8</text>
<rect x="575.29" y="151.31" width="17.0" height="35.99" fill="#c0c0c0" stroke="#333" stroke-width="1"/>
<line x1="580.49" y1="151.31" x2="586.89" y2="151.31" stroke="#000" stroke-width="1.5"/>
<text x="583.79" y="149.71" font-size="8.8" text-anchor="middle" class="sm" >31</text>
<rect x="593.64" y="166.63" width="17.0" height="20.67" fill="#fff" stroke="#333" stroke-width="1"/>
<line x1="598.84" y1="166.63" x2="605.24" y2="166.63" stroke="#000" stroke-width="1.5"/>
<text x="602.14" y="165.03" font-size="8.8" text-anchor="middle" class="sm" >17.8</text>
<text x="582.44" y="212.00" font-size="12" text-anchor="middle" >Non-treated</text>
<rect x="622.91" y="105.91" width="17.0" height="81.39" fill="url(#hatch)" stroke="#333" stroke-width="1"/>
<line x1="628.11" y1="105.91" x2="634.51" y2="105.91" stroke="#000" stroke-width="1.5"/>
<text x="631.41" y="104.31" font-size="8.8" text-anchor="middle" class="sm" >70.1</text>
<rect x="641.26" y="161.76" width="17.0" height="25.54" fill="#c0c0c0" stroke="#333" stroke-width="1"/>
<line x1="646.46" y1="161.76" x2="652.86" y2="161.76" stroke="#000" stroke-width="1.5"/>
<text x="649.76" y="160.16" font-size="8.8" text-anchor="middle" class="sm" >22</text>
<rect x="659.61" y="165.71" width="17.0" height="21.59" fill="#fff" stroke="#333" stroke-width="1"/>
<line x1="664.81" y1="165.71" x2="671.21" y2="165.71" stroke="#000" stroke-width="1.5"/>
<text x="668.11" y="164.11" font-size="8.8" text-anchor="middle" class="sm" >18.6</text>
<text x="649.41" y="203.60" font-size="12" text-anchor="middle" >Plasma</text>
<text x="649.41" y="218.30" font-size="12" text-anchor="middle" >treated</text>
<rect x="418.50" y="25.00" width="263.90" height="162.30" fill="none" stroke="#000" stroke-width="1.3"/>
<path d="M555.2,89.30 V83.60 H679.4 V89.30 M617.7,83.60 V77.20" fill="none" stroke="#000" stroke-width="1.2"/>
<text x="617.20" y="73.00" font-size="11.8" text-anchor="middle" >Immersed in water</text>
<rect x="420.50" y="27.50" width="31.2" height="14.8" fill="url(#hatch)" stroke="#333" stroke-width="1"/>
<text x="455.80" y="39.80" font-size="14" text-anchor="start" >L-value</text>
<rect x="420.50" y="45.00" width="31.2" height="14.8" fill="#c0c0c0" stroke="#333" stroke-width="1"/>
<text x="455.80" y="57.30" font-size="14" text-anchor="start" >a<tspan dx="1.7">-value</tspan></text>
<rect x="420.50" y="62.50" width="31.2" height="14.8" fill="#fff" stroke="#333" stroke-width="1"/>
<text x="455.80" y="74.80" font-size="14" text-anchor="start" >b<tspan dx="0.5">-value</tspan></text>
<text transform="translate(376.10,105.65) rotate(-90)" font-size="19.6" text-anchor="middle">Color values (a.u.)</text>
<text x="349.60" y="17.40" font-size="24.5" text-anchor="start" >(d)</text>
<line x1="414.40" y1="396.90" x2="420.10" y2="396.90" stroke="#000" stroke-width="1.3" />
<text x="409.60" y="402.00" font-size="15.3" text-anchor="end" >0</text>
<line x1="417.30" y1="375.38" x2="420.10" y2="375.38" stroke="#000" stroke-width="1.3" />
<line x1="414.40" y1="353.86" x2="420.10" y2="353.86" stroke="#000" stroke-width="1.3" />
<text x="409.60" y="358.96" font-size="15.3" text-anchor="end" >40</text>
<line x1="417.30" y1="332.34" x2="420.10" y2="332.34" stroke="#000" stroke-width="1.3" />
<line x1="414.40" y1="310.82" x2="420.10" y2="310.82" stroke="#000" stroke-width="1.3" />
<text x="409.60" y="315.92" font-size="15.3" text-anchor="end" >80</text>
<line x1="417.30" y1="289.30" x2="420.10" y2="289.30" stroke="#000" stroke-width="1.3" />
<line x1="414.40" y1="267.78" x2="420.10" y2="267.78" stroke="#000" stroke-width="1.3" />
<text x="409.60" y="272.88" font-size="15.3" text-anchor="end" >120</text>
<rect x="426.64" y="308.56" width="17.0" height="88.34" fill="url(#hatch)" stroke="#333" stroke-width="1"/>
<line x1="431.84" y1="308.56" x2="438.24" y2="308.56" stroke="#000" stroke-width="1.5"/>
<text x="435.14" y="306.96" font-size="8.8" text-anchor="middle" class="sm" >82.1</text>
<rect x="444.99" y="388.94" width="17.0" height="7.96" fill="#c0c0c0" stroke="#333" stroke-width="1"/>
<line x1="450.19" y1="388.94" x2="456.59" y2="388.94" stroke="#000" stroke-width="1.5"/>
<text x="453.49" y="387.34" font-size="8.8" text-anchor="middle" class="sm" >7.4</text>
<rect x="463.34" y="322.33" width="17.0" height="74.57" fill="#fff" stroke="#333" stroke-width="1"/>
<line x1="468.54" y1="322.33" x2="474.94" y2="322.33" stroke="#000" stroke-width="1.5"/>
<text x="471.84" y="320.73" font-size="8.8" text-anchor="middle" class="sm" >69.3</text>
<text x="452.14" y="434.80" font-size="12" text-anchor="middle" >Non-treated</text>
<rect x="492.71" y="308.56" width="17.0" height="88.34" fill="url(#hatch)" stroke="#333" stroke-width="1"/>
<line x1="497.91" y1="308.56" x2="504.31" y2="308.56" stroke="#000" stroke-width="1.5"/>
<text x="501.21" y="306.96" font-size="8.8" text-anchor="middle" class="sm" >82.1</text>
<rect x="511.06" y="388.29" width="17.0" height="8.61" fill="#c0c0c0" stroke="#333" stroke-width="1"/>
<line x1="516.26" y1="388.29" x2="522.66" y2="388.29" stroke="#000" stroke-width="1.5"/>
<text x="519.56" y="386.69" font-size="8.8" text-anchor="middle" class="sm" >8</text>
<rect x="529.41" y="323.19" width="17.0" height="73.71" fill="#fff" stroke="#333" stroke-width="1"/>
<line x1="534.61" y1="323.19" x2="541.01" y2="323.19" stroke="#000" stroke-width="1.5"/>
<text x="537.91" y="321.59" font-size="8.8" text-anchor="middle" class="sm" >68.5</text>
<text x="519.21" y="426.40" font-size="12" text-anchor="middle" >Plasma</text>
<text x="519.21" y="441.10" font-size="12" text-anchor="middle" >treated</text>
<rect x="558.79" y="303.83" width="17.0" height="93.07" fill="url(#hatch)" stroke="#333" stroke-width="1"/>
<line x1="563.99" y1="303.83" x2="570.39" y2="303.83" stroke="#000" stroke-width="1.5"/>
<text x="567.29" y="302.23" font-size="8.8" text-anchor="middle" class="sm" >86.5</text>
<rect x="577.14" y="396.90" width="17.0" height="2.69" fill="#c0c0c0" stroke="#333" stroke-width="1"/>
<line x1="582.34" y1="399.59" x2="588.74" y2="399.59" stroke="#000" stroke-width="1.5"/>
<text x="585.64" y="408.49" font-size="8.8" text-anchor="middle" class="sm" >-2.5</text>
<rect x="595.49" y="343.53" width="17.0" height="53.37" fill="#fff" stroke="#333" stroke-width="1"/>
<line x1="600.69" y1="343.53" x2="607.09" y2="343.53" stroke="#000" stroke-width="1.5"/>
<text x="603.99" y="341.93" font-size="8.8" text-anchor="middle" class="sm" >49.6</text>
<text x="584.29" y="434.80" font-size="12" text-anchor="middle" >Non-treated</text>
<rect x="624.86" y="302.64" width="17.0" height="94.26" fill="url(#hatch)" stroke="#333" stroke-width="1"/>
<line x1="630.06" y1="302.64" x2="636.46" y2="302.64" stroke="#000" stroke-width="1.5"/>
<text x="633.36" y="301.04" font-size="8.8" text-anchor="middle" class="sm" >87.6</text>
<rect x="643.21" y="396.90" width="17.0" height="4.52" fill="#c0c0c0" stroke="#333" stroke-width="1"/>
<line x1="648.41" y1="401.42" x2="654.81" y2="401.42" stroke="#000" stroke-width="1.5"/>
<text x="651.71" y="410.32" font-size="8.8" text-anchor="middle" class="sm" >-4.2</text>
<rect x="661.56" y="354.77" width="17.0" height="42.13" fill="#fff" stroke="#333" stroke-width="1"/>
<line x1="666.76" y1="354.77" x2="673.16" y2="354.77" stroke="#000" stroke-width="1.5"/>
<text x="670.06" y="353.17" font-size="8.8" text-anchor="middle" class="sm" >39.15</text>
<text x="651.36" y="426.40" font-size="12" text-anchor="middle" >Plasma</text>
<text x="651.36" y="441.10" font-size="12" text-anchor="middle" >treated</text>
<line x1="420.10" y1="396.90" x2="684.40" y2="396.90" stroke="#000" stroke-width="1.3" />
<rect x="420.10" y="247.40" width="264.30" height="162.70" fill="none" stroke="#000" stroke-width="1.3"/>
<path d="M555.2,289.20 V283.50 H679.4 V289.20 M617.7,283.50 V277.10" fill="none" stroke="#000" stroke-width="1.2"/>
<text x="617.20" y="273.30" font-size="11.8" text-anchor="middle" >Immersed in water</text>
<rect x="422.10" y="249.30" width="31.2" height="14.8" fill="url(#hatch)" stroke="#333" stroke-width="1"/>
<text x="457.40" y="261.60" font-size="14" text-anchor="start" >L-value</text>
<rect x="422.10" y="266.80" width="31.2" height="14.8" fill="#c0c0c0" stroke="#333" stroke-width="1"/>
<text x="457.40" y="279.10" font-size="14" text-anchor="start" >a<tspan dx="1.7">-value</tspan></text>
<rect x="422.10" y="284.30" width="31.2" height="14.8" fill="#fff" stroke="#333" stroke-width="1"/>
<text x="457.40" y="296.60" font-size="14" text-anchor="start" >b<tspan dx="0.5">-value</tspan></text>
<text transform="translate(377.70,328.25) rotate(-90)" font-size="19.6" text-anchor="middle">Color values (a.u.)</text>
<text x="349.60" y="239.80" font-size="24.5" text-anchor="start" >(e)</text>
<line x1="413.40" y1="622.50" x2="419.10" y2="622.50" stroke="#000" stroke-width="1.3" />
<text x="408.60" y="627.60" font-size="15.3" text-anchor="end" >-40</text>
<line x1="416.30" y1="605.50" x2="419.10" y2="605.50" stroke="#000" stroke-width="1.3" />
<line x1="413.40" y1="588.50" x2="419.10" y2="588.50" stroke="#000" stroke-width="1.3" />
<text x="408.60" y="593.60" font-size="15.3" text-anchor="end" >0</text>
<line x1="416.30" y1="571.50" x2="419.10" y2="571.50" stroke="#000" stroke-width="1.3" />
<line x1="413.40" y1="554.50" x2="419.10" y2="554.50" stroke="#000" stroke-width="1.3" />
<text x="408.60" y="559.60" font-size="15.3" text-anchor="end" >40</text>
<line x1="416.30" y1="537.50" x2="419.10" y2="537.50" stroke="#000" stroke-width="1.3" />
<line x1="413.40" y1="520.50" x2="419.10" y2="520.50" stroke="#000" stroke-width="1.3" />
<text x="408.60" y="525.60" font-size="15.3" text-anchor="end" >80</text>
<line x1="416.30" y1="503.50" x2="419.10" y2="503.50" stroke="#000" stroke-width="1.3" />
<line x1="413.40" y1="486.50" x2="419.10" y2="486.50" stroke="#000" stroke-width="1.3" />
<text x="408.60" y="491.60" font-size="15.3" text-anchor="end" >120</text>
<line x1="416.30" y1="469.50" x2="419.10" y2="469.50" stroke="#000" stroke-width="1.3" />
<rect x="425.71" y="546.17" width="17.0" height="42.33" fill="url(#hatch)" stroke="#333" stroke-width="1"/>
<line x1="430.91" y1="546.17" x2="437.31" y2="546.17" stroke="#000" stroke-width="1.5"/>
<text x="434.21" y="544.57" font-size="8.8" text-anchor="middle" class="sm" >49.8</text>
<rect x="444.06" y="588.50" width="17.0" height="3.32" fill="#c0c0c0" stroke="#333" stroke-width="1"/>
<line x1="449.26" y1="591.82" x2="455.66" y2="591.82" stroke="#000" stroke-width="1.5"/>
<text x="452.56" y="600.72" font-size="8.8" text-anchor="middle" class="sm" >-3.9</text>
<rect x="462.41" y="588.50" width="17.0" height="32.30" fill="#fff" stroke="#333" stroke-width="1"/>
<line x1="467.61" y1="620.80" x2="474.01" y2="620.80" stroke="#000" stroke-width="1.5"/>
<text x="470.91" y="629.70" font-size="8.8" text-anchor="middle" class="sm" >-38</text>
<text x="451.21" y="655.90" font-size="12" text-anchor="middle" >Non-treated</text>
<rect x="491.94" y="545.83" width="17.0" height="42.67" fill="url(#hatch)" stroke="#333" stroke-width="1"/>
<line x1="497.14" y1="545.83" x2="503.54" y2="545.83" stroke="#000" stroke-width="1.5"/>
<text x="500.44" y="544.23" font-size="8.8" text-anchor="middle" class="sm" >50.2</text>
<rect x="510.29" y="588.50" width="17.0" height="5.27" fill="#c0c0c0" stroke="#333" stroke-width="1"/>
<line x1="515.49" y1="593.77" x2="521.89" y2="593.77" stroke="#000" stroke-width="1.5"/>
<text x="518.79" y="602.67" font-size="8.8" text-anchor="middle" class="sm" >-6.2</text>
<rect x="528.64" y="588.50" width="17.0" height="28.64" fill="#fff" stroke="#333" stroke-width="1"/>
<line x1="533.84" y1="617.14" x2="540.24" y2="617.14" stroke="#000" stroke-width="1.5"/>
<text x="537.14" y="626.04" font-size="8.8" text-anchor="middle" class="sm" >-33.7</text>
<text x="518.44" y="647.50" font-size="12" text-anchor="middle" >Plasma</text>
<text x="518.44" y="662.20" font-size="12" text-anchor="middle" >treated</text>
<rect x="558.16" y="536.74" width="17.0" height="51.76" fill="url(#hatch)" stroke="#333" stroke-width="1"/>
<line x1="563.36" y1="536.74" x2="569.76" y2="536.74" stroke="#000" stroke-width="1.5"/>
<text x="566.66" y="535.13" font-size="8.8" text-anchor="middle" class="sm" >60.9</text>
<rect x="576.51" y="588.50" width="17.0" height="9.18" fill="#c0c0c0" stroke="#333" stroke-width="1"/>
<line x1="581.71" y1="597.68" x2="588.11" y2="597.68" stroke="#000" stroke-width="1.5"/>
<text x="585.01" y="606.58" font-size="8.8" text-anchor="middle" class="sm" >-10.8</text>
<rect x="594.86" y="588.50" width="17.0" height="30.35" fill="#fff" stroke="#333" stroke-width="1"/>
<line x1="600.06" y1="618.85" x2="606.46" y2="618.85" stroke="#000" stroke-width="1.5"/>
<text x="603.36" y="627.75" font-size="8.8" text-anchor="middle" class="sm" >-35.7</text>
<text x="583.66" y="655.90" font-size="12" text-anchor="middle" >Non-treated</text>
<rect x="624.39" y="528.83" width="17.0" height="59.67" fill="url(#hatch)" stroke="#333" stroke-width="1"/>
<line x1="629.59" y1="528.83" x2="635.99" y2="528.83" stroke="#000" stroke-width="1.5"/>
<text x="632.89" y="527.23" font-size="8.8" text-anchor="middle" class="sm" >70.2</text>
<rect x="642.74" y="588.50" width="17.0" height="10.97" fill="#c0c0c0" stroke="#333" stroke-width="1"/>
<line x1="647.94" y1="599.47" x2="654.34" y2="599.47" stroke="#000" stroke-width="1.5"/>
<text x="651.24" y="608.37" font-size="8.8" text-anchor="middle" class="sm" >-12.9</text>
<rect x="661.09" y="588.50" width="17.0" height="24.65" fill="#fff" stroke="#333" stroke-width="1"/>
<line x1="666.29" y1="613.15" x2="672.69" y2="613.15" stroke="#000" stroke-width="1.5"/>
<text x="669.59" y="622.05" font-size="8.8" text-anchor="middle" class="sm" >-29</text>
<text x="650.89" y="647.50" font-size="12" text-anchor="middle" >Plasma</text>
<text x="650.89" y="662.20" font-size="12" text-anchor="middle" >treated</text>
<line x1="419.10" y1="588.50" x2="684.00" y2="588.50" stroke="#000" stroke-width="1.3" />
<rect x="419.10" y="469.40" width="264.90" height="161.80" fill="none" stroke="#000" stroke-width="1.3"/>
<path d="M555.2,515.50 V509.80 H679.4 V515.50 M617.7,509.80 V503.40" fill="none" stroke="#000" stroke-width="1.2"/>
<text x="617.20" y="499.30" font-size="11.8" text-anchor="middle" >Immersed in water</text>
<rect x="421.10" y="471.90" width="31.2" height="14.8" fill="url(#hatch)" stroke="#333" stroke-width="1"/>
<text x="456.40" y="484.20" font-size="14" text-anchor="start" >L-value</text>
<rect x="421.10" y="489.40" width="31.2" height="14.8" fill="#c0c0c0" stroke="#333" stroke-width="1"/>
<text x="456.40" y="501.70" font-size="14" text-anchor="start" >a<tspan dx="1.7">-value</tspan></text>
<rect x="421.10" y="506.90" width="31.2" height="14.8" fill="#fff" stroke="#333" stroke-width="1"/>
<text x="456.40" y="519.20" font-size="14" text-anchor="start" >b<tspan dx="0.5">-value</tspan></text>
<text transform="translate(376.70,549.80) rotate(-90)" font-size="19.6" text-anchor="middle">Color values (a.u.)</text>
<text x="349.60" y="461.80" font-size="24.5" text-anchor="start" >(f)</text>
</svg>
</body></html>
